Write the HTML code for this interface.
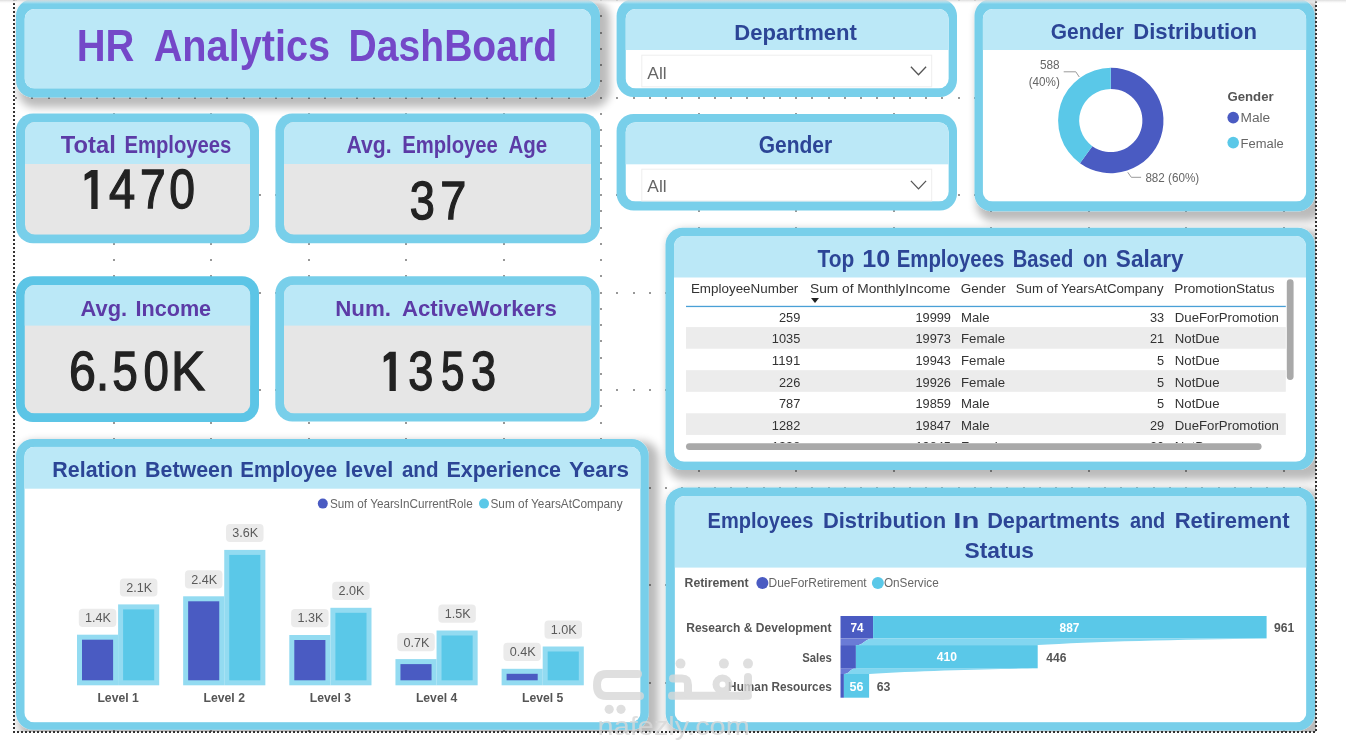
<!DOCTYPE html>
<html><head><meta charset="utf-8"><style>
html,body{margin:0;padding:0;background:#fff;width:1346px;height:742px;overflow:hidden}
svg{display:block;font-family:"Liberation Sans",sans-serif;will-change:transform}
</style></head><body>
<svg width="1346" height="742" viewBox="0 0 1346 742">
<defs>
<filter id="sh" x="-10%" y="-10%" width="130%" height="140%"><feMorphology in="SourceAlpha" operator="dilate" radius="4"/><feGaussianBlur stdDeviation="4"/><feOffset dx="6" dy="6" result="b"/><feComponentTransfer><feFuncA type="linear" slope="0.27"/></feComponentTransfer><feMerge><feMergeNode/><feMergeNode in="SourceGraphic"/></feMerge></filter>
<linearGradient id="topg" x1="0" y1="0" x2="0" y2="1"><stop offset="0" stop-color="#d8d8d8" stop-opacity="0.9"/><stop offset="1" stop-color="#ffffff" stop-opacity="0"/></linearGradient>
<clipPath id="canvas"><rect x="14" y="0" width="1302" height="732"/></clipPath>
</defs>
<rect width="1346" height="742" fill="#fff"/>
<g clip-path="url(#canvas)">
<g fill="#4a4a4a"><rect x="15.25" y="-0.75" width="1.5" height="1.5"/><rect x="15.25" y="97.25" width="1.5" height="1.5"/><rect x="15.25" y="194.25" width="1.5" height="1.5"/><rect x="15.25" y="292.25" width="1.5" height="1.5"/><rect x="15.25" y="389.25" width="1.5" height="1.5"/><rect x="15.25" y="487.25" width="1.5" height="1.5"/><rect x="15.25" y="584.25" width="1.5" height="1.5"/><rect x="15.25" y="682.25" width="1.5" height="1.5"/><rect x="31.25" y="-0.75" width="1.5" height="1.5"/><rect x="31.25" y="97.25" width="1.5" height="1.5"/><rect x="31.25" y="194.25" width="1.5" height="1.5"/><rect x="31.25" y="292.25" width="1.5" height="1.5"/><rect x="31.25" y="389.25" width="1.5" height="1.5"/><rect x="31.25" y="487.25" width="1.5" height="1.5"/><rect x="31.25" y="584.25" width="1.5" height="1.5"/><rect x="31.25" y="682.25" width="1.5" height="1.5"/><rect x="48.25" y="-0.75" width="1.5" height="1.5"/><rect x="48.25" y="97.25" width="1.5" height="1.5"/><rect x="48.25" y="194.25" width="1.5" height="1.5"/><rect x="48.25" y="292.25" width="1.5" height="1.5"/><rect x="48.25" y="389.25" width="1.5" height="1.5"/><rect x="48.25" y="487.25" width="1.5" height="1.5"/><rect x="48.25" y="584.25" width="1.5" height="1.5"/><rect x="48.25" y="682.25" width="1.5" height="1.5"/><rect x="64.25" y="-0.75" width="1.5" height="1.5"/><rect x="64.25" y="97.25" width="1.5" height="1.5"/><rect x="64.25" y="194.25" width="1.5" height="1.5"/><rect x="64.25" y="292.25" width="1.5" height="1.5"/><rect x="64.25" y="389.25" width="1.5" height="1.5"/><rect x="64.25" y="487.25" width="1.5" height="1.5"/><rect x="64.25" y="584.25" width="1.5" height="1.5"/><rect x="64.25" y="682.25" width="1.5" height="1.5"/><rect x="80.25" y="-0.75" width="1.5" height="1.5"/><rect x="80.25" y="97.25" width="1.5" height="1.5"/><rect x="80.25" y="194.25" width="1.5" height="1.5"/><rect x="80.25" y="292.25" width="1.5" height="1.5"/><rect x="80.25" y="389.25" width="1.5" height="1.5"/><rect x="80.25" y="487.25" width="1.5" height="1.5"/><rect x="80.25" y="584.25" width="1.5" height="1.5"/><rect x="80.25" y="682.25" width="1.5" height="1.5"/><rect x="96.25" y="-0.75" width="1.5" height="1.5"/><rect x="96.25" y="97.25" width="1.5" height="1.5"/><rect x="96.25" y="194.25" width="1.5" height="1.5"/><rect x="96.25" y="292.25" width="1.5" height="1.5"/><rect x="96.25" y="389.25" width="1.5" height="1.5"/><rect x="96.25" y="487.25" width="1.5" height="1.5"/><rect x="96.25" y="584.25" width="1.5" height="1.5"/><rect x="96.25" y="682.25" width="1.5" height="1.5"/><rect x="113.25" y="-0.75" width="1.5" height="1.5"/><rect x="113.25" y="15.25" width="1.5" height="1.5"/><rect x="113.25" y="32.25" width="1.5" height="1.5"/><rect x="113.25" y="48.25" width="1.5" height="1.5"/><rect x="113.25" y="64.25" width="1.5" height="1.5"/><rect x="113.25" y="80.25" width="1.5" height="1.5"/><rect x="113.25" y="97.25" width="1.5" height="1.5"/><rect x="113.25" y="113.25" width="1.5" height="1.5"/><rect x="113.25" y="129.25" width="1.5" height="1.5"/><rect x="113.25" y="145.25" width="1.5" height="1.5"/><rect x="113.25" y="162.25" width="1.5" height="1.5"/><rect x="113.25" y="178.25" width="1.5" height="1.5"/><rect x="113.25" y="194.25" width="1.5" height="1.5"/><rect x="113.25" y="210.25" width="1.5" height="1.5"/><rect x="113.25" y="227.25" width="1.5" height="1.5"/><rect x="113.25" y="243.25" width="1.5" height="1.5"/><rect x="113.25" y="259.25" width="1.5" height="1.5"/><rect x="113.25" y="275.25" width="1.5" height="1.5"/><rect x="113.25" y="292.25" width="1.5" height="1.5"/><rect x="113.25" y="308.25" width="1.5" height="1.5"/><rect x="113.25" y="324.25" width="1.5" height="1.5"/><rect x="113.25" y="340.25" width="1.5" height="1.5"/><rect x="113.25" y="357.25" width="1.5" height="1.5"/><rect x="113.25" y="373.25" width="1.5" height="1.5"/><rect x="113.25" y="389.25" width="1.5" height="1.5"/><rect x="113.25" y="405.25" width="1.5" height="1.5"/><rect x="113.25" y="422.25" width="1.5" height="1.5"/><rect x="113.25" y="438.25" width="1.5" height="1.5"/><rect x="113.25" y="454.25" width="1.5" height="1.5"/><rect x="113.25" y="470.25" width="1.5" height="1.5"/><rect x="113.25" y="487.25" width="1.5" height="1.5"/><rect x="113.25" y="503.25" width="1.5" height="1.5"/><rect x="113.25" y="519.25" width="1.5" height="1.5"/><rect x="113.25" y="535.25" width="1.5" height="1.5"/><rect x="113.25" y="552.25" width="1.5" height="1.5"/><rect x="113.25" y="568.25" width="1.5" height="1.5"/><rect x="113.25" y="584.25" width="1.5" height="1.5"/><rect x="113.25" y="600.25" width="1.5" height="1.5"/><rect x="113.25" y="617.25" width="1.5" height="1.5"/><rect x="113.25" y="633.25" width="1.5" height="1.5"/><rect x="113.25" y="649.25" width="1.5" height="1.5"/><rect x="113.25" y="665.25" width="1.5" height="1.5"/><rect x="113.25" y="682.25" width="1.5" height="1.5"/><rect x="113.25" y="698.25" width="1.5" height="1.5"/><rect x="113.25" y="714.25" width="1.5" height="1.5"/><rect x="113.25" y="730.25" width="1.5" height="1.5"/><rect x="129.25" y="-0.75" width="1.5" height="1.5"/><rect x="129.25" y="97.25" width="1.5" height="1.5"/><rect x="129.25" y="194.25" width="1.5" height="1.5"/><rect x="129.25" y="292.25" width="1.5" height="1.5"/><rect x="129.25" y="389.25" width="1.5" height="1.5"/><rect x="129.25" y="487.25" width="1.5" height="1.5"/><rect x="129.25" y="584.25" width="1.5" height="1.5"/><rect x="129.25" y="682.25" width="1.5" height="1.5"/><rect x="145.25" y="-0.75" width="1.5" height="1.5"/><rect x="145.25" y="97.25" width="1.5" height="1.5"/><rect x="145.25" y="194.25" width="1.5" height="1.5"/><rect x="145.25" y="292.25" width="1.5" height="1.5"/><rect x="145.25" y="389.25" width="1.5" height="1.5"/><rect x="145.25" y="487.25" width="1.5" height="1.5"/><rect x="145.25" y="584.25" width="1.5" height="1.5"/><rect x="145.25" y="682.25" width="1.5" height="1.5"/><rect x="161.25" y="-0.75" width="1.5" height="1.5"/><rect x="161.25" y="97.25" width="1.5" height="1.5"/><rect x="161.25" y="194.25" width="1.5" height="1.5"/><rect x="161.25" y="292.25" width="1.5" height="1.5"/><rect x="161.25" y="389.25" width="1.5" height="1.5"/><rect x="161.25" y="487.25" width="1.5" height="1.5"/><rect x="161.25" y="584.25" width="1.5" height="1.5"/><rect x="161.25" y="682.25" width="1.5" height="1.5"/><rect x="178.25" y="-0.75" width="1.5" height="1.5"/><rect x="178.25" y="97.25" width="1.5" height="1.5"/><rect x="178.25" y="194.25" width="1.5" height="1.5"/><rect x="178.25" y="292.25" width="1.5" height="1.5"/><rect x="178.25" y="389.25" width="1.5" height="1.5"/><rect x="178.25" y="487.25" width="1.5" height="1.5"/><rect x="178.25" y="584.25" width="1.5" height="1.5"/><rect x="178.25" y="682.25" width="1.5" height="1.5"/><rect x="194.25" y="-0.75" width="1.5" height="1.5"/><rect x="194.25" y="97.25" width="1.5" height="1.5"/><rect x="194.25" y="194.25" width="1.5" height="1.5"/><rect x="194.25" y="292.25" width="1.5" height="1.5"/><rect x="194.25" y="389.25" width="1.5" height="1.5"/><rect x="194.25" y="487.25" width="1.5" height="1.5"/><rect x="194.25" y="584.25" width="1.5" height="1.5"/><rect x="194.25" y="682.25" width="1.5" height="1.5"/><rect x="210.25" y="-0.75" width="1.5" height="1.5"/><rect x="210.25" y="15.25" width="1.5" height="1.5"/><rect x="210.25" y="32.25" width="1.5" height="1.5"/><rect x="210.25" y="48.25" width="1.5" height="1.5"/><rect x="210.25" y="64.25" width="1.5" height="1.5"/><rect x="210.25" y="80.25" width="1.5" height="1.5"/><rect x="210.25" y="97.25" width="1.5" height="1.5"/><rect x="210.25" y="113.25" width="1.5" height="1.5"/><rect x="210.25" y="129.25" width="1.5" height="1.5"/><rect x="210.25" y="145.25" width="1.5" height="1.5"/><rect x="210.25" y="162.25" width="1.5" height="1.5"/><rect x="210.25" y="178.25" width="1.5" height="1.5"/><rect x="210.25" y="194.25" width="1.5" height="1.5"/><rect x="210.25" y="210.25" width="1.5" height="1.5"/><rect x="210.25" y="227.25" width="1.5" height="1.5"/><rect x="210.25" y="243.25" width="1.5" height="1.5"/><rect x="210.25" y="259.25" width="1.5" height="1.5"/><rect x="210.25" y="275.25" width="1.5" height="1.5"/><rect x="210.25" y="292.25" width="1.5" height="1.5"/><rect x="210.25" y="308.25" width="1.5" height="1.5"/><rect x="210.25" y="324.25" width="1.5" height="1.5"/><rect x="210.25" y="340.25" width="1.5" height="1.5"/><rect x="210.25" y="357.25" width="1.5" height="1.5"/><rect x="210.25" y="373.25" width="1.5" height="1.5"/><rect x="210.25" y="389.25" width="1.5" height="1.5"/><rect x="210.25" y="405.25" width="1.5" height="1.5"/><rect x="210.25" y="422.25" width="1.5" height="1.5"/><rect x="210.25" y="438.25" width="1.5" height="1.5"/><rect x="210.25" y="454.25" width="1.5" height="1.5"/><rect x="210.25" y="470.25" width="1.5" height="1.5"/><rect x="210.25" y="487.25" width="1.5" height="1.5"/><rect x="210.25" y="503.25" width="1.5" height="1.5"/><rect x="210.25" y="519.25" width="1.5" height="1.5"/><rect x="210.25" y="535.25" width="1.5" height="1.5"/><rect x="210.25" y="552.25" width="1.5" height="1.5"/><rect x="210.25" y="568.25" width="1.5" height="1.5"/><rect x="210.25" y="584.25" width="1.5" height="1.5"/><rect x="210.25" y="600.25" width="1.5" height="1.5"/><rect x="210.25" y="617.25" width="1.5" height="1.5"/><rect x="210.25" y="633.25" width="1.5" height="1.5"/><rect x="210.25" y="649.25" width="1.5" height="1.5"/><rect x="210.25" y="665.25" width="1.5" height="1.5"/><rect x="210.25" y="682.25" width="1.5" height="1.5"/><rect x="210.25" y="698.25" width="1.5" height="1.5"/><rect x="210.25" y="714.25" width="1.5" height="1.5"/><rect x="210.25" y="730.25" width="1.5" height="1.5"/><rect x="226.25" y="-0.75" width="1.5" height="1.5"/><rect x="226.25" y="97.25" width="1.5" height="1.5"/><rect x="226.25" y="194.25" width="1.5" height="1.5"/><rect x="226.25" y="292.25" width="1.5" height="1.5"/><rect x="226.25" y="389.25" width="1.5" height="1.5"/><rect x="226.25" y="487.25" width="1.5" height="1.5"/><rect x="226.25" y="584.25" width="1.5" height="1.5"/><rect x="226.25" y="682.25" width="1.5" height="1.5"/><rect x="243.25" y="-0.75" width="1.5" height="1.5"/><rect x="243.25" y="97.25" width="1.5" height="1.5"/><rect x="243.25" y="194.25" width="1.5" height="1.5"/><rect x="243.25" y="292.25" width="1.5" height="1.5"/><rect x="243.25" y="389.25" width="1.5" height="1.5"/><rect x="243.25" y="487.25" width="1.5" height="1.5"/><rect x="243.25" y="584.25" width="1.5" height="1.5"/><rect x="243.25" y="682.25" width="1.5" height="1.5"/><rect x="259.25" y="-0.75" width="1.5" height="1.5"/><rect x="259.25" y="97.25" width="1.5" height="1.5"/><rect x="259.25" y="194.25" width="1.5" height="1.5"/><rect x="259.25" y="292.25" width="1.5" height="1.5"/><rect x="259.25" y="389.25" width="1.5" height="1.5"/><rect x="259.25" y="487.25" width="1.5" height="1.5"/><rect x="259.25" y="584.25" width="1.5" height="1.5"/><rect x="259.25" y="682.25" width="1.5" height="1.5"/><rect x="275.25" y="-0.75" width="1.5" height="1.5"/><rect x="275.25" y="97.25" width="1.5" height="1.5"/><rect x="275.25" y="194.25" width="1.5" height="1.5"/><rect x="275.25" y="292.25" width="1.5" height="1.5"/><rect x="275.25" y="389.25" width="1.5" height="1.5"/><rect x="275.25" y="487.25" width="1.5" height="1.5"/><rect x="275.25" y="584.25" width="1.5" height="1.5"/><rect x="275.25" y="682.25" width="1.5" height="1.5"/><rect x="291.25" y="-0.75" width="1.5" height="1.5"/><rect x="291.25" y="97.25" width="1.5" height="1.5"/><rect x="291.25" y="194.25" width="1.5" height="1.5"/><rect x="291.25" y="292.25" width="1.5" height="1.5"/><rect x="291.25" y="389.25" width="1.5" height="1.5"/><rect x="291.25" y="487.25" width="1.5" height="1.5"/><rect x="291.25" y="584.25" width="1.5" height="1.5"/><rect x="291.25" y="682.25" width="1.5" height="1.5"/><rect x="308.25" y="-0.75" width="1.5" height="1.5"/><rect x="308.25" y="15.25" width="1.5" height="1.5"/><rect x="308.25" y="32.25" width="1.5" height="1.5"/><rect x="308.25" y="48.25" width="1.5" height="1.5"/><rect x="308.25" y="64.25" width="1.5" height="1.5"/><rect x="308.25" y="80.25" width="1.5" height="1.5"/><rect x="308.25" y="97.25" width="1.5" height="1.5"/><rect x="308.25" y="113.25" width="1.5" height="1.5"/><rect x="308.25" y="129.25" width="1.5" height="1.5"/><rect x="308.25" y="145.25" width="1.5" height="1.5"/><rect x="308.25" y="162.25" width="1.5" height="1.5"/><rect x="308.25" y="178.25" width="1.5" height="1.5"/><rect x="308.25" y="194.25" width="1.5" height="1.5"/><rect x="308.25" y="210.25" width="1.5" height="1.5"/><rect x="308.25" y="227.25" width="1.5" height="1.5"/><rect x="308.25" y="243.25" width="1.5" height="1.5"/><rect x="308.25" y="259.25" width="1.5" height="1.5"/><rect x="308.25" y="275.25" width="1.5" height="1.5"/><rect x="308.25" y="292.25" width="1.5" height="1.5"/><rect x="308.25" y="308.25" width="1.5" height="1.5"/><rect x="308.25" y="324.25" width="1.5" height="1.5"/><rect x="308.25" y="340.25" width="1.5" height="1.5"/><rect x="308.25" y="357.25" width="1.5" height="1.5"/><rect x="308.25" y="373.25" width="1.5" height="1.5"/><rect x="308.25" y="389.25" width="1.5" height="1.5"/><rect x="308.25" y="405.25" width="1.5" height="1.5"/><rect x="308.25" y="422.25" width="1.5" height="1.5"/><rect x="308.25" y="438.25" width="1.5" height="1.5"/><rect x="308.25" y="454.25" width="1.5" height="1.5"/><rect x="308.25" y="470.25" width="1.5" height="1.5"/><rect x="308.25" y="487.25" width="1.5" height="1.5"/><rect x="308.25" y="503.25" width="1.5" height="1.5"/><rect x="308.25" y="519.25" width="1.5" height="1.5"/><rect x="308.25" y="535.25" width="1.5" height="1.5"/><rect x="308.25" y="552.25" width="1.5" height="1.5"/><rect x="308.25" y="568.25" width="1.5" height="1.5"/><rect x="308.25" y="584.25" width="1.5" height="1.5"/><rect x="308.25" y="600.25" width="1.5" height="1.5"/><rect x="308.25" y="617.25" width="1.5" height="1.5"/><rect x="308.25" y="633.25" width="1.5" height="1.5"/><rect x="308.25" y="649.25" width="1.5" height="1.5"/><rect x="308.25" y="665.25" width="1.5" height="1.5"/><rect x="308.25" y="682.25" width="1.5" height="1.5"/><rect x="308.25" y="698.25" width="1.5" height="1.5"/><rect x="308.25" y="714.25" width="1.5" height="1.5"/><rect x="308.25" y="730.25" width="1.5" height="1.5"/><rect x="324.25" y="-0.75" width="1.5" height="1.5"/><rect x="324.25" y="97.25" width="1.5" height="1.5"/><rect x="324.25" y="194.25" width="1.5" height="1.5"/><rect x="324.25" y="292.25" width="1.5" height="1.5"/><rect x="324.25" y="389.25" width="1.5" height="1.5"/><rect x="324.25" y="487.25" width="1.5" height="1.5"/><rect x="324.25" y="584.25" width="1.5" height="1.5"/><rect x="324.25" y="682.25" width="1.5" height="1.5"/><rect x="340.25" y="-0.75" width="1.5" height="1.5"/><rect x="340.25" y="97.25" width="1.5" height="1.5"/><rect x="340.25" y="194.25" width="1.5" height="1.5"/><rect x="340.25" y="292.25" width="1.5" height="1.5"/><rect x="340.25" y="389.25" width="1.5" height="1.5"/><rect x="340.25" y="487.25" width="1.5" height="1.5"/><rect x="340.25" y="584.25" width="1.5" height="1.5"/><rect x="340.25" y="682.25" width="1.5" height="1.5"/><rect x="356.25" y="-0.75" width="1.5" height="1.5"/><rect x="356.25" y="97.25" width="1.5" height="1.5"/><rect x="356.25" y="194.25" width="1.5" height="1.5"/><rect x="356.25" y="292.25" width="1.5" height="1.5"/><rect x="356.25" y="389.25" width="1.5" height="1.5"/><rect x="356.25" y="487.25" width="1.5" height="1.5"/><rect x="356.25" y="584.25" width="1.5" height="1.5"/><rect x="356.25" y="682.25" width="1.5" height="1.5"/><rect x="373.25" y="-0.75" width="1.5" height="1.5"/><rect x="373.25" y="97.25" width="1.5" height="1.5"/><rect x="373.25" y="194.25" width="1.5" height="1.5"/><rect x="373.25" y="292.25" width="1.5" height="1.5"/><rect x="373.25" y="389.25" width="1.5" height="1.5"/><rect x="373.25" y="487.25" width="1.5" height="1.5"/><rect x="373.25" y="584.25" width="1.5" height="1.5"/><rect x="373.25" y="682.25" width="1.5" height="1.5"/><rect x="389.25" y="-0.75" width="1.5" height="1.5"/><rect x="389.25" y="97.25" width="1.5" height="1.5"/><rect x="389.25" y="194.25" width="1.5" height="1.5"/><rect x="389.25" y="292.25" width="1.5" height="1.5"/><rect x="389.25" y="389.25" width="1.5" height="1.5"/><rect x="389.25" y="487.25" width="1.5" height="1.5"/><rect x="389.25" y="584.25" width="1.5" height="1.5"/><rect x="389.25" y="682.25" width="1.5" height="1.5"/><rect x="405.25" y="-0.75" width="1.5" height="1.5"/><rect x="405.25" y="15.25" width="1.5" height="1.5"/><rect x="405.25" y="32.25" width="1.5" height="1.5"/><rect x="405.25" y="48.25" width="1.5" height="1.5"/><rect x="405.25" y="64.25" width="1.5" height="1.5"/><rect x="405.25" y="80.25" width="1.5" height="1.5"/><rect x="405.25" y="97.25" width="1.5" height="1.5"/><rect x="405.25" y="113.25" width="1.5" height="1.5"/><rect x="405.25" y="129.25" width="1.5" height="1.5"/><rect x="405.25" y="145.25" width="1.5" height="1.5"/><rect x="405.25" y="162.25" width="1.5" height="1.5"/><rect x="405.25" y="178.25" width="1.5" height="1.5"/><rect x="405.25" y="194.25" width="1.5" height="1.5"/><rect x="405.25" y="210.25" width="1.5" height="1.5"/><rect x="405.25" y="227.25" width="1.5" height="1.5"/><rect x="405.25" y="243.25" width="1.5" height="1.5"/><rect x="405.25" y="259.25" width="1.5" height="1.5"/><rect x="405.25" y="275.25" width="1.5" height="1.5"/><rect x="405.25" y="292.25" width="1.5" height="1.5"/><rect x="405.25" y="308.25" width="1.5" height="1.5"/><rect x="405.25" y="324.25" width="1.5" height="1.5"/><rect x="405.25" y="340.25" width="1.5" height="1.5"/><rect x="405.25" y="357.25" width="1.5" height="1.5"/><rect x="405.25" y="373.25" width="1.5" height="1.5"/><rect x="405.25" y="389.25" width="1.5" height="1.5"/><rect x="405.25" y="405.25" width="1.5" height="1.5"/><rect x="405.25" y="422.25" width="1.5" height="1.5"/><rect x="405.25" y="438.25" width="1.5" height="1.5"/><rect x="405.25" y="454.25" width="1.5" height="1.5"/><rect x="405.25" y="470.25" width="1.5" height="1.5"/><rect x="405.25" y="487.25" width="1.5" height="1.5"/><rect x="405.25" y="503.25" width="1.5" height="1.5"/><rect x="405.25" y="519.25" width="1.5" height="1.5"/><rect x="405.25" y="535.25" width="1.5" height="1.5"/><rect x="405.25" y="552.25" width="1.5" height="1.5"/><rect x="405.25" y="568.25" width="1.5" height="1.5"/><rect x="405.25" y="584.25" width="1.5" height="1.5"/><rect x="405.25" y="600.25" width="1.5" height="1.5"/><rect x="405.25" y="617.25" width="1.5" height="1.5"/><rect x="405.25" y="633.25" width="1.5" height="1.5"/><rect x="405.25" y="649.25" width="1.5" height="1.5"/><rect x="405.25" y="665.25" width="1.5" height="1.5"/><rect x="405.25" y="682.25" width="1.5" height="1.5"/><rect x="405.25" y="698.25" width="1.5" height="1.5"/><rect x="405.25" y="714.25" width="1.5" height="1.5"/><rect x="405.25" y="730.25" width="1.5" height="1.5"/><rect x="421.25" y="-0.75" width="1.5" height="1.5"/><rect x="421.25" y="97.25" width="1.5" height="1.5"/><rect x="421.25" y="194.25" width="1.5" height="1.5"/><rect x="421.25" y="292.25" width="1.5" height="1.5"/><rect x="421.25" y="389.25" width="1.5" height="1.5"/><rect x="421.25" y="487.25" width="1.5" height="1.5"/><rect x="421.25" y="584.25" width="1.5" height="1.5"/><rect x="421.25" y="682.25" width="1.5" height="1.5"/><rect x="438.25" y="-0.75" width="1.5" height="1.5"/><rect x="438.25" y="97.25" width="1.5" height="1.5"/><rect x="438.25" y="194.25" width="1.5" height="1.5"/><rect x="438.25" y="292.25" width="1.5" height="1.5"/><rect x="438.25" y="389.25" width="1.5" height="1.5"/><rect x="438.25" y="487.25" width="1.5" height="1.5"/><rect x="438.25" y="584.25" width="1.5" height="1.5"/><rect x="438.25" y="682.25" width="1.5" height="1.5"/><rect x="454.25" y="-0.75" width="1.5" height="1.5"/><rect x="454.25" y="97.25" width="1.5" height="1.5"/><rect x="454.25" y="194.25" width="1.5" height="1.5"/><rect x="454.25" y="292.25" width="1.5" height="1.5"/><rect x="454.25" y="389.25" width="1.5" height="1.5"/><rect x="454.25" y="487.25" width="1.5" height="1.5"/><rect x="454.25" y="584.25" width="1.5" height="1.5"/><rect x="454.25" y="682.25" width="1.5" height="1.5"/><rect x="470.25" y="-0.75" width="1.5" height="1.5"/><rect x="470.25" y="97.25" width="1.5" height="1.5"/><rect x="470.25" y="194.25" width="1.5" height="1.5"/><rect x="470.25" y="292.25" width="1.5" height="1.5"/><rect x="470.25" y="389.25" width="1.5" height="1.5"/><rect x="470.25" y="487.25" width="1.5" height="1.5"/><rect x="470.25" y="584.25" width="1.5" height="1.5"/><rect x="470.25" y="682.25" width="1.5" height="1.5"/><rect x="486.25" y="-0.75" width="1.5" height="1.5"/><rect x="486.25" y="97.25" width="1.5" height="1.5"/><rect x="486.25" y="194.25" width="1.5" height="1.5"/><rect x="486.25" y="292.25" width="1.5" height="1.5"/><rect x="486.25" y="389.25" width="1.5" height="1.5"/><rect x="486.25" y="487.25" width="1.5" height="1.5"/><rect x="486.25" y="584.25" width="1.5" height="1.5"/><rect x="486.25" y="682.25" width="1.5" height="1.5"/><rect x="503.25" y="-0.75" width="1.5" height="1.5"/><rect x="503.25" y="15.25" width="1.5" height="1.5"/><rect x="503.25" y="32.25" width="1.5" height="1.5"/><rect x="503.25" y="48.25" width="1.5" height="1.5"/><rect x="503.25" y="64.25" width="1.5" height="1.5"/><rect x="503.25" y="80.25" width="1.5" height="1.5"/><rect x="503.25" y="97.25" width="1.5" height="1.5"/><rect x="503.25" y="113.25" width="1.5" height="1.5"/><rect x="503.25" y="129.25" width="1.5" height="1.5"/><rect x="503.25" y="145.25" width="1.5" height="1.5"/><rect x="503.25" y="162.25" width="1.5" height="1.5"/><rect x="503.25" y="178.25" width="1.5" height="1.5"/><rect x="503.25" y="194.25" width="1.5" height="1.5"/><rect x="503.25" y="210.25" width="1.5" height="1.5"/><rect x="503.25" y="227.25" width="1.5" height="1.5"/><rect x="503.25" y="243.25" width="1.5" height="1.5"/><rect x="503.25" y="259.25" width="1.5" height="1.5"/><rect x="503.25" y="275.25" width="1.5" height="1.5"/><rect x="503.25" y="292.25" width="1.5" height="1.5"/><rect x="503.25" y="308.25" width="1.5" height="1.5"/><rect x="503.25" y="324.25" width="1.5" height="1.5"/><rect x="503.25" y="340.25" width="1.5" height="1.5"/><rect x="503.25" y="357.25" width="1.5" height="1.5"/><rect x="503.25" y="373.25" width="1.5" height="1.5"/><rect x="503.25" y="389.25" width="1.5" height="1.5"/><rect x="503.25" y="405.25" width="1.5" height="1.5"/><rect x="503.25" y="422.25" width="1.5" height="1.5"/><rect x="503.25" y="438.25" width="1.5" height="1.5"/><rect x="503.25" y="454.25" width="1.5" height="1.5"/><rect x="503.25" y="470.25" width="1.5" height="1.5"/><rect x="503.25" y="487.25" width="1.5" height="1.5"/><rect x="503.25" y="503.25" width="1.5" height="1.5"/><rect x="503.25" y="519.25" width="1.5" height="1.5"/><rect x="503.25" y="535.25" width="1.5" height="1.5"/><rect x="503.25" y="552.25" width="1.5" height="1.5"/><rect x="503.25" y="568.25" width="1.5" height="1.5"/><rect x="503.25" y="584.25" width="1.5" height="1.5"/><rect x="503.25" y="600.25" width="1.5" height="1.5"/><rect x="503.25" y="617.25" width="1.5" height="1.5"/><rect x="503.25" y="633.25" width="1.5" height="1.5"/><rect x="503.25" y="649.25" width="1.5" height="1.5"/><rect x="503.25" y="665.25" width="1.5" height="1.5"/><rect x="503.25" y="682.25" width="1.5" height="1.5"/><rect x="503.25" y="698.25" width="1.5" height="1.5"/><rect x="503.25" y="714.25" width="1.5" height="1.5"/><rect x="503.25" y="730.25" width="1.5" height="1.5"/><rect x="519.25" y="-0.75" width="1.5" height="1.5"/><rect x="519.25" y="97.25" width="1.5" height="1.5"/><rect x="519.25" y="194.25" width="1.5" height="1.5"/><rect x="519.25" y="292.25" width="1.5" height="1.5"/><rect x="519.25" y="389.25" width="1.5" height="1.5"/><rect x="519.25" y="487.25" width="1.5" height="1.5"/><rect x="519.25" y="584.25" width="1.5" height="1.5"/><rect x="519.25" y="682.25" width="1.5" height="1.5"/><rect x="535.25" y="-0.75" width="1.5" height="1.5"/><rect x="535.25" y="97.25" width="1.5" height="1.5"/><rect x="535.25" y="194.25" width="1.5" height="1.5"/><rect x="535.25" y="292.25" width="1.5" height="1.5"/><rect x="535.25" y="389.25" width="1.5" height="1.5"/><rect x="535.25" y="487.25" width="1.5" height="1.5"/><rect x="535.25" y="584.25" width="1.5" height="1.5"/><rect x="535.25" y="682.25" width="1.5" height="1.5"/><rect x="551.25" y="-0.75" width="1.5" height="1.5"/><rect x="551.25" y="97.25" width="1.5" height="1.5"/><rect x="551.25" y="194.25" width="1.5" height="1.5"/><rect x="551.25" y="292.25" width="1.5" height="1.5"/><rect x="551.25" y="389.25" width="1.5" height="1.5"/><rect x="551.25" y="487.25" width="1.5" height="1.5"/><rect x="551.25" y="584.25" width="1.5" height="1.5"/><rect x="551.25" y="682.25" width="1.5" height="1.5"/><rect x="568.25" y="-0.75" width="1.5" height="1.5"/><rect x="568.25" y="97.25" width="1.5" height="1.5"/><rect x="568.25" y="194.25" width="1.5" height="1.5"/><rect x="568.25" y="292.25" width="1.5" height="1.5"/><rect x="568.25" y="389.25" width="1.5" height="1.5"/><rect x="568.25" y="487.25" width="1.5" height="1.5"/><rect x="568.25" y="584.25" width="1.5" height="1.5"/><rect x="568.25" y="682.25" width="1.5" height="1.5"/><rect x="584.25" y="-0.75" width="1.5" height="1.5"/><rect x="584.25" y="97.25" width="1.5" height="1.5"/><rect x="584.25" y="194.25" width="1.5" height="1.5"/><rect x="584.25" y="292.25" width="1.5" height="1.5"/><rect x="584.25" y="389.25" width="1.5" height="1.5"/><rect x="584.25" y="487.25" width="1.5" height="1.5"/><rect x="584.25" y="584.25" width="1.5" height="1.5"/><rect x="584.25" y="682.25" width="1.5" height="1.5"/><rect x="600.25" y="-0.75" width="1.5" height="1.5"/><rect x="600.25" y="15.25" width="1.5" height="1.5"/><rect x="600.25" y="32.25" width="1.5" height="1.5"/><rect x="600.25" y="48.25" width="1.5" height="1.5"/><rect x="600.25" y="64.25" width="1.5" height="1.5"/><rect x="600.25" y="80.25" width="1.5" height="1.5"/><rect x="600.25" y="97.25" width="1.5" height="1.5"/><rect x="600.25" y="113.25" width="1.5" height="1.5"/><rect x="600.25" y="129.25" width="1.5" height="1.5"/><rect x="600.25" y="145.25" width="1.5" height="1.5"/><rect x="600.25" y="162.25" width="1.5" height="1.5"/><rect x="600.25" y="178.25" width="1.5" height="1.5"/><rect x="600.25" y="194.25" width="1.5" height="1.5"/><rect x="600.25" y="210.25" width="1.5" height="1.5"/><rect x="600.25" y="227.25" width="1.5" height="1.5"/><rect x="600.25" y="243.25" width="1.5" height="1.5"/><rect x="600.25" y="259.25" width="1.5" height="1.5"/><rect x="600.25" y="275.25" width="1.5" height="1.5"/><rect x="600.25" y="292.25" width="1.5" height="1.5"/><rect x="600.25" y="308.25" width="1.5" height="1.5"/><rect x="600.25" y="324.25" width="1.5" height="1.5"/><rect x="600.25" y="340.25" width="1.5" height="1.5"/><rect x="600.25" y="357.25" width="1.5" height="1.5"/><rect x="600.25" y="373.25" width="1.5" height="1.5"/><rect x="600.25" y="389.25" width="1.5" height="1.5"/><rect x="600.25" y="405.25" width="1.5" height="1.5"/><rect x="600.25" y="422.25" width="1.5" height="1.5"/><rect x="600.25" y="438.25" width="1.5" height="1.5"/><rect x="600.25" y="454.25" width="1.5" height="1.5"/><rect x="600.25" y="470.25" width="1.5" height="1.5"/><rect x="600.25" y="487.25" width="1.5" height="1.5"/><rect x="600.25" y="503.25" width="1.5" height="1.5"/><rect x="600.25" y="519.25" width="1.5" height="1.5"/><rect x="600.25" y="535.25" width="1.5" height="1.5"/><rect x="600.25" y="552.25" width="1.5" height="1.5"/><rect x="600.25" y="568.25" width="1.5" height="1.5"/><rect x="600.25" y="584.25" width="1.5" height="1.5"/><rect x="600.25" y="600.25" width="1.5" height="1.5"/><rect x="600.25" y="617.25" width="1.5" height="1.5"/><rect x="600.25" y="633.25" width="1.5" height="1.5"/><rect x="600.25" y="649.25" width="1.5" height="1.5"/><rect x="600.25" y="665.25" width="1.5" height="1.5"/><rect x="600.25" y="682.25" width="1.5" height="1.5"/><rect x="600.25" y="698.25" width="1.5" height="1.5"/><rect x="600.25" y="714.25" width="1.5" height="1.5"/><rect x="600.25" y="730.25" width="1.5" height="1.5"/><rect x="616.25" y="-0.75" width="1.5" height="1.5"/><rect x="616.25" y="97.25" width="1.5" height="1.5"/><rect x="616.25" y="194.25" width="1.5" height="1.5"/><rect x="616.25" y="292.25" width="1.5" height="1.5"/><rect x="616.25" y="389.25" width="1.5" height="1.5"/><rect x="616.25" y="487.25" width="1.5" height="1.5"/><rect x="616.25" y="584.25" width="1.5" height="1.5"/><rect x="616.25" y="682.25" width="1.5" height="1.5"/><rect x="633.25" y="-0.75" width="1.5" height="1.5"/><rect x="633.25" y="97.25" width="1.5" height="1.5"/><rect x="633.25" y="194.25" width="1.5" height="1.5"/><rect x="633.25" y="292.25" width="1.5" height="1.5"/><rect x="633.25" y="389.25" width="1.5" height="1.5"/><rect x="633.25" y="487.25" width="1.5" height="1.5"/><rect x="633.25" y="584.25" width="1.5" height="1.5"/><rect x="633.25" y="682.25" width="1.5" height="1.5"/><rect x="649.25" y="-0.75" width="1.5" height="1.5"/><rect x="649.25" y="97.25" width="1.5" height="1.5"/><rect x="649.25" y="194.25" width="1.5" height="1.5"/><rect x="649.25" y="292.25" width="1.5" height="1.5"/><rect x="649.25" y="389.25" width="1.5" height="1.5"/><rect x="649.25" y="487.25" width="1.5" height="1.5"/><rect x="649.25" y="584.25" width="1.5" height="1.5"/><rect x="649.25" y="682.25" width="1.5" height="1.5"/><rect x="665.25" y="-0.75" width="1.5" height="1.5"/><rect x="665.25" y="97.25" width="1.5" height="1.5"/><rect x="665.25" y="194.25" width="1.5" height="1.5"/><rect x="665.25" y="292.25" width="1.5" height="1.5"/><rect x="665.25" y="389.25" width="1.5" height="1.5"/><rect x="665.25" y="487.25" width="1.5" height="1.5"/><rect x="665.25" y="584.25" width="1.5" height="1.5"/><rect x="665.25" y="682.25" width="1.5" height="1.5"/><rect x="681.25" y="-0.75" width="1.5" height="1.5"/><rect x="681.25" y="97.25" width="1.5" height="1.5"/><rect x="681.25" y="194.25" width="1.5" height="1.5"/><rect x="681.25" y="292.25" width="1.5" height="1.5"/><rect x="681.25" y="389.25" width="1.5" height="1.5"/><rect x="681.25" y="487.25" width="1.5" height="1.5"/><rect x="681.25" y="584.25" width="1.5" height="1.5"/><rect x="681.25" y="682.25" width="1.5" height="1.5"/><rect x="698.25" y="-0.75" width="1.5" height="1.5"/><rect x="698.25" y="15.25" width="1.5" height="1.5"/><rect x="698.25" y="32.25" width="1.5" height="1.5"/><rect x="698.25" y="48.25" width="1.5" height="1.5"/><rect x="698.25" y="64.25" width="1.5" height="1.5"/><rect x="698.25" y="80.25" width="1.5" height="1.5"/><rect x="698.25" y="97.25" width="1.5" height="1.5"/><rect x="698.25" y="113.25" width="1.5" height="1.5"/><rect x="698.25" y="129.25" width="1.5" height="1.5"/><rect x="698.25" y="145.25" width="1.5" height="1.5"/><rect x="698.25" y="162.25" width="1.5" height="1.5"/><rect x="698.25" y="178.25" width="1.5" height="1.5"/><rect x="698.25" y="194.25" width="1.5" height="1.5"/><rect x="698.25" y="210.25" width="1.5" height="1.5"/><rect x="698.25" y="227.25" width="1.5" height="1.5"/><rect x="698.25" y="243.25" width="1.5" height="1.5"/><rect x="698.25" y="259.25" width="1.5" height="1.5"/><rect x="698.25" y="275.25" width="1.5" height="1.5"/><rect x="698.25" y="292.25" width="1.5" height="1.5"/><rect x="698.25" y="308.25" width="1.5" height="1.5"/><rect x="698.25" y="324.25" width="1.5" height="1.5"/><rect x="698.25" y="340.25" width="1.5" height="1.5"/><rect x="698.25" y="357.25" width="1.5" height="1.5"/><rect x="698.25" y="373.25" width="1.5" height="1.5"/><rect x="698.25" y="389.25" width="1.5" height="1.5"/><rect x="698.25" y="405.25" width="1.5" height="1.5"/><rect x="698.25" y="422.25" width="1.5" height="1.5"/><rect x="698.25" y="438.25" width="1.5" height="1.5"/><rect x="698.25" y="454.25" width="1.5" height="1.5"/><rect x="698.25" y="470.25" width="1.5" height="1.5"/><rect x="698.25" y="487.25" width="1.5" height="1.5"/><rect x="698.25" y="503.25" width="1.5" height="1.5"/><rect x="698.25" y="519.25" width="1.5" height="1.5"/><rect x="698.25" y="535.25" width="1.5" height="1.5"/><rect x="698.25" y="552.25" width="1.5" height="1.5"/><rect x="698.25" y="568.25" width="1.5" height="1.5"/><rect x="698.25" y="584.25" width="1.5" height="1.5"/><rect x="698.25" y="600.25" width="1.5" height="1.5"/><rect x="698.25" y="617.25" width="1.5" height="1.5"/><rect x="698.25" y="633.25" width="1.5" height="1.5"/><rect x="698.25" y="649.25" width="1.5" height="1.5"/><rect x="698.25" y="665.25" width="1.5" height="1.5"/><rect x="698.25" y="682.25" width="1.5" height="1.5"/><rect x="698.25" y="698.25" width="1.5" height="1.5"/><rect x="698.25" y="714.25" width="1.5" height="1.5"/><rect x="698.25" y="730.25" width="1.5" height="1.5"/><rect x="714.25" y="-0.75" width="1.5" height="1.5"/><rect x="714.25" y="97.25" width="1.5" height="1.5"/><rect x="714.25" y="194.25" width="1.5" height="1.5"/><rect x="714.25" y="292.25" width="1.5" height="1.5"/><rect x="714.25" y="389.25" width="1.5" height="1.5"/><rect x="714.25" y="487.25" width="1.5" height="1.5"/><rect x="714.25" y="584.25" width="1.5" height="1.5"/><rect x="714.25" y="682.25" width="1.5" height="1.5"/><rect x="730.25" y="-0.75" width="1.5" height="1.5"/><rect x="730.25" y="97.25" width="1.5" height="1.5"/><rect x="730.25" y="194.25" width="1.5" height="1.5"/><rect x="730.25" y="292.25" width="1.5" height="1.5"/><rect x="730.25" y="389.25" width="1.5" height="1.5"/><rect x="730.25" y="487.25" width="1.5" height="1.5"/><rect x="730.25" y="584.25" width="1.5" height="1.5"/><rect x="730.25" y="682.25" width="1.5" height="1.5"/><rect x="746.25" y="-0.75" width="1.5" height="1.5"/><rect x="746.25" y="97.25" width="1.5" height="1.5"/><rect x="746.25" y="194.25" width="1.5" height="1.5"/><rect x="746.25" y="292.25" width="1.5" height="1.5"/><rect x="746.25" y="389.25" width="1.5" height="1.5"/><rect x="746.25" y="487.25" width="1.5" height="1.5"/><rect x="746.25" y="584.25" width="1.5" height="1.5"/><rect x="746.25" y="682.25" width="1.5" height="1.5"/><rect x="763.25" y="-0.75" width="1.5" height="1.5"/><rect x="763.25" y="97.25" width="1.5" height="1.5"/><rect x="763.25" y="194.25" width="1.5" height="1.5"/><rect x="763.25" y="292.25" width="1.5" height="1.5"/><rect x="763.25" y="389.25" width="1.5" height="1.5"/><rect x="763.25" y="487.25" width="1.5" height="1.5"/><rect x="763.25" y="584.25" width="1.5" height="1.5"/><rect x="763.25" y="682.25" width="1.5" height="1.5"/><rect x="779.25" y="-0.75" width="1.5" height="1.5"/><rect x="779.25" y="97.25" width="1.5" height="1.5"/><rect x="779.25" y="194.25" width="1.5" height="1.5"/><rect x="779.25" y="292.25" width="1.5" height="1.5"/><rect x="779.25" y="389.25" width="1.5" height="1.5"/><rect x="779.25" y="487.25" width="1.5" height="1.5"/><rect x="779.25" y="584.25" width="1.5" height="1.5"/><rect x="779.25" y="682.25" width="1.5" height="1.5"/><rect x="795.25" y="-0.75" width="1.5" height="1.5"/><rect x="795.25" y="15.25" width="1.5" height="1.5"/><rect x="795.25" y="32.25" width="1.5" height="1.5"/><rect x="795.25" y="48.25" width="1.5" height="1.5"/><rect x="795.25" y="64.25" width="1.5" height="1.5"/><rect x="795.25" y="80.25" width="1.5" height="1.5"/><rect x="795.25" y="97.25" width="1.5" height="1.5"/><rect x="795.25" y="113.25" width="1.5" height="1.5"/><rect x="795.25" y="129.25" width="1.5" height="1.5"/><rect x="795.25" y="145.25" width="1.5" height="1.5"/><rect x="795.25" y="162.25" width="1.5" height="1.5"/><rect x="795.25" y="178.25" width="1.5" height="1.5"/><rect x="795.25" y="194.25" width="1.5" height="1.5"/><rect x="795.25" y="210.25" width="1.5" height="1.5"/><rect x="795.25" y="227.25" width="1.5" height="1.5"/><rect x="795.25" y="243.25" width="1.5" height="1.5"/><rect x="795.25" y="259.25" width="1.5" height="1.5"/><rect x="795.25" y="275.25" width="1.5" height="1.5"/><rect x="795.25" y="292.25" width="1.5" height="1.5"/><rect x="795.25" y="308.25" width="1.5" height="1.5"/><rect x="795.25" y="324.25" width="1.5" height="1.5"/><rect x="795.25" y="340.25" width="1.5" height="1.5"/><rect x="795.25" y="357.25" width="1.5" height="1.5"/><rect x="795.25" y="373.25" width="1.5" height="1.5"/><rect x="795.25" y="389.25" width="1.5" height="1.5"/><rect x="795.25" y="405.25" width="1.5" height="1.5"/><rect x="795.25" y="422.25" width="1.5" height="1.5"/><rect x="795.25" y="438.25" width="1.5" height="1.5"/><rect x="795.25" y="454.25" width="1.5" height="1.5"/><rect x="795.25" y="470.25" width="1.5" height="1.5"/><rect x="795.25" y="487.25" width="1.5" height="1.5"/><rect x="795.25" y="503.25" width="1.5" height="1.5"/><rect x="795.25" y="519.25" width="1.5" height="1.5"/><rect x="795.25" y="535.25" width="1.5" height="1.5"/><rect x="795.25" y="552.25" width="1.5" height="1.5"/><rect x="795.25" y="568.25" width="1.5" height="1.5"/><rect x="795.25" y="584.25" width="1.5" height="1.5"/><rect x="795.25" y="600.25" width="1.5" height="1.5"/><rect x="795.25" y="617.25" width="1.5" height="1.5"/><rect x="795.25" y="633.25" width="1.5" height="1.5"/><rect x="795.25" y="649.25" width="1.5" height="1.5"/><rect x="795.25" y="665.25" width="1.5" height="1.5"/><rect x="795.25" y="682.25" width="1.5" height="1.5"/><rect x="795.25" y="698.25" width="1.5" height="1.5"/><rect x="795.25" y="714.25" width="1.5" height="1.5"/><rect x="795.25" y="730.25" width="1.5" height="1.5"/><rect x="811.25" y="-0.75" width="1.5" height="1.5"/><rect x="811.25" y="97.25" width="1.5" height="1.5"/><rect x="811.25" y="194.25" width="1.5" height="1.5"/><rect x="811.25" y="292.25" width="1.5" height="1.5"/><rect x="811.25" y="389.25" width="1.5" height="1.5"/><rect x="811.25" y="487.25" width="1.5" height="1.5"/><rect x="811.25" y="584.25" width="1.5" height="1.5"/><rect x="811.25" y="682.25" width="1.5" height="1.5"/><rect x="828.25" y="-0.75" width="1.5" height="1.5"/><rect x="828.25" y="97.25" width="1.5" height="1.5"/><rect x="828.25" y="194.25" width="1.5" height="1.5"/><rect x="828.25" y="292.25" width="1.5" height="1.5"/><rect x="828.25" y="389.25" width="1.5" height="1.5"/><rect x="828.25" y="487.25" width="1.5" height="1.5"/><rect x="828.25" y="584.25" width="1.5" height="1.5"/><rect x="828.25" y="682.25" width="1.5" height="1.5"/><rect x="844.25" y="-0.75" width="1.5" height="1.5"/><rect x="844.25" y="97.25" width="1.5" height="1.5"/><rect x="844.25" y="194.25" width="1.5" height="1.5"/><rect x="844.25" y="292.25" width="1.5" height="1.5"/><rect x="844.25" y="389.25" width="1.5" height="1.5"/><rect x="844.25" y="487.25" width="1.5" height="1.5"/><rect x="844.25" y="584.25" width="1.5" height="1.5"/><rect x="844.25" y="682.25" width="1.5" height="1.5"/><rect x="860.25" y="-0.75" width="1.5" height="1.5"/><rect x="860.25" y="97.25" width="1.5" height="1.5"/><rect x="860.25" y="194.25" width="1.5" height="1.5"/><rect x="860.25" y="292.25" width="1.5" height="1.5"/><rect x="860.25" y="389.25" width="1.5" height="1.5"/><rect x="860.25" y="487.25" width="1.5" height="1.5"/><rect x="860.25" y="584.25" width="1.5" height="1.5"/><rect x="860.25" y="682.25" width="1.5" height="1.5"/><rect x="876.25" y="-0.75" width="1.5" height="1.5"/><rect x="876.25" y="97.25" width="1.5" height="1.5"/><rect x="876.25" y="194.25" width="1.5" height="1.5"/><rect x="876.25" y="292.25" width="1.5" height="1.5"/><rect x="876.25" y="389.25" width="1.5" height="1.5"/><rect x="876.25" y="487.25" width="1.5" height="1.5"/><rect x="876.25" y="584.25" width="1.5" height="1.5"/><rect x="876.25" y="682.25" width="1.5" height="1.5"/><rect x="893.25" y="-0.75" width="1.5" height="1.5"/><rect x="893.25" y="15.25" width="1.5" height="1.5"/><rect x="893.25" y="32.25" width="1.5" height="1.5"/><rect x="893.25" y="48.25" width="1.5" height="1.5"/><rect x="893.25" y="64.25" width="1.5" height="1.5"/><rect x="893.25" y="80.25" width="1.5" height="1.5"/><rect x="893.25" y="97.25" width="1.5" height="1.5"/><rect x="893.25" y="113.25" width="1.5" height="1.5"/><rect x="893.25" y="129.25" width="1.5" height="1.5"/><rect x="893.25" y="145.25" width="1.5" height="1.5"/><rect x="893.25" y="162.25" width="1.5" height="1.5"/><rect x="893.25" y="178.25" width="1.5" height="1.5"/><rect x="893.25" y="194.25" width="1.5" height="1.5"/><rect x="893.25" y="210.25" width="1.5" height="1.5"/><rect x="893.25" y="227.25" width="1.5" height="1.5"/><rect x="893.25" y="243.25" width="1.5" height="1.5"/><rect x="893.25" y="259.25" width="1.5" height="1.5"/><rect x="893.25" y="275.25" width="1.5" height="1.5"/><rect x="893.25" y="292.25" width="1.5" height="1.5"/><rect x="893.25" y="308.25" width="1.5" height="1.5"/><rect x="893.25" y="324.25" width="1.5" height="1.5"/><rect x="893.25" y="340.25" width="1.5" height="1.5"/><rect x="893.25" y="357.25" width="1.5" height="1.5"/><rect x="893.25" y="373.25" width="1.5" height="1.5"/><rect x="893.25" y="389.25" width="1.5" height="1.5"/><rect x="893.25" y="405.25" width="1.5" height="1.5"/><rect x="893.25" y="422.25" width="1.5" height="1.5"/><rect x="893.25" y="438.25" width="1.5" height="1.5"/><rect x="893.25" y="454.25" width="1.5" height="1.5"/><rect x="893.25" y="470.25" width="1.5" height="1.5"/><rect x="893.25" y="487.25" width="1.5" height="1.5"/><rect x="893.25" y="503.25" width="1.5" height="1.5"/><rect x="893.25" y="519.25" width="1.5" height="1.5"/><rect x="893.25" y="535.25" width="1.5" height="1.5"/><rect x="893.25" y="552.25" width="1.5" height="1.5"/><rect x="893.25" y="568.25" width="1.5" height="1.5"/><rect x="893.25" y="584.25" width="1.5" height="1.5"/><rect x="893.25" y="600.25" width="1.5" height="1.5"/><rect x="893.25" y="617.25" width="1.5" height="1.5"/><rect x="893.25" y="633.25" width="1.5" height="1.5"/><rect x="893.25" y="649.25" width="1.5" height="1.5"/><rect x="893.25" y="665.25" width="1.5" height="1.5"/><rect x="893.25" y="682.25" width="1.5" height="1.5"/><rect x="893.25" y="698.25" width="1.5" height="1.5"/><rect x="893.25" y="714.25" width="1.5" height="1.5"/><rect x="893.25" y="730.25" width="1.5" height="1.5"/><rect x="909.25" y="-0.75" width="1.5" height="1.5"/><rect x="909.25" y="97.25" width="1.5" height="1.5"/><rect x="909.25" y="194.25" width="1.5" height="1.5"/><rect x="909.25" y="292.25" width="1.5" height="1.5"/><rect x="909.25" y="389.25" width="1.5" height="1.5"/><rect x="909.25" y="487.25" width="1.5" height="1.5"/><rect x="909.25" y="584.25" width="1.5" height="1.5"/><rect x="909.25" y="682.25" width="1.5" height="1.5"/><rect x="925.25" y="-0.75" width="1.5" height="1.5"/><rect x="925.25" y="97.25" width="1.5" height="1.5"/><rect x="925.25" y="194.25" width="1.5" height="1.5"/><rect x="925.25" y="292.25" width="1.5" height="1.5"/><rect x="925.25" y="389.25" width="1.5" height="1.5"/><rect x="925.25" y="487.25" width="1.5" height="1.5"/><rect x="925.25" y="584.25" width="1.5" height="1.5"/><rect x="925.25" y="682.25" width="1.5" height="1.5"/><rect x="941.25" y="-0.75" width="1.5" height="1.5"/><rect x="941.25" y="97.25" width="1.5" height="1.5"/><rect x="941.25" y="194.25" width="1.5" height="1.5"/><rect x="941.25" y="292.25" width="1.5" height="1.5"/><rect x="941.25" y="389.25" width="1.5" height="1.5"/><rect x="941.25" y="487.25" width="1.5" height="1.5"/><rect x="941.25" y="584.25" width="1.5" height="1.5"/><rect x="941.25" y="682.25" width="1.5" height="1.5"/><rect x="958.25" y="-0.75" width="1.5" height="1.5"/><rect x="958.25" y="97.25" width="1.5" height="1.5"/><rect x="958.25" y="194.25" width="1.5" height="1.5"/><rect x="958.25" y="292.25" width="1.5" height="1.5"/><rect x="958.25" y="389.25" width="1.5" height="1.5"/><rect x="958.25" y="487.25" width="1.5" height="1.5"/><rect x="958.25" y="584.25" width="1.5" height="1.5"/><rect x="958.25" y="682.25" width="1.5" height="1.5"/><rect x="974.25" y="-0.75" width="1.5" height="1.5"/><rect x="974.25" y="97.25" width="1.5" height="1.5"/><rect x="974.25" y="194.25" width="1.5" height="1.5"/><rect x="974.25" y="292.25" width="1.5" height="1.5"/><rect x="974.25" y="389.25" width="1.5" height="1.5"/><rect x="974.25" y="487.25" width="1.5" height="1.5"/><rect x="974.25" y="584.25" width="1.5" height="1.5"/><rect x="974.25" y="682.25" width="1.5" height="1.5"/><rect x="990.25" y="-0.75" width="1.5" height="1.5"/><rect x="990.25" y="15.25" width="1.5" height="1.5"/><rect x="990.25" y="32.25" width="1.5" height="1.5"/><rect x="990.25" y="48.25" width="1.5" height="1.5"/><rect x="990.25" y="64.25" width="1.5" height="1.5"/><rect x="990.25" y="80.25" width="1.5" height="1.5"/><rect x="990.25" y="97.25" width="1.5" height="1.5"/><rect x="990.25" y="113.25" width="1.5" height="1.5"/><rect x="990.25" y="129.25" width="1.5" height="1.5"/><rect x="990.25" y="145.25" width="1.5" height="1.5"/><rect x="990.25" y="162.25" width="1.5" height="1.5"/><rect x="990.25" y="178.25" width="1.5" height="1.5"/><rect x="990.25" y="194.25" width="1.5" height="1.5"/><rect x="990.25" y="210.25" width="1.5" height="1.5"/><rect x="990.25" y="227.25" width="1.5" height="1.5"/><rect x="990.25" y="243.25" width="1.5" height="1.5"/><rect x="990.25" y="259.25" width="1.5" height="1.5"/><rect x="990.25" y="275.25" width="1.5" height="1.5"/><rect x="990.25" y="292.25" width="1.5" height="1.5"/><rect x="990.25" y="308.25" width="1.5" height="1.5"/><rect x="990.25" y="324.25" width="1.5" height="1.5"/><rect x="990.25" y="340.25" width="1.5" height="1.5"/><rect x="990.25" y="357.25" width="1.5" height="1.5"/><rect x="990.25" y="373.25" width="1.5" height="1.5"/><rect x="990.25" y="389.25" width="1.5" height="1.5"/><rect x="990.25" y="405.25" width="1.5" height="1.5"/><rect x="990.25" y="422.25" width="1.5" height="1.5"/><rect x="990.25" y="438.25" width="1.5" height="1.5"/><rect x="990.25" y="454.25" width="1.5" height="1.5"/><rect x="990.25" y="470.25" width="1.5" height="1.5"/><rect x="990.25" y="487.25" width="1.5" height="1.5"/><rect x="990.25" y="503.25" width="1.5" height="1.5"/><rect x="990.25" y="519.25" width="1.5" height="1.5"/><rect x="990.25" y="535.25" width="1.5" height="1.5"/><rect x="990.25" y="552.25" width="1.5" height="1.5"/><rect x="990.25" y="568.25" width="1.5" height="1.5"/><rect x="990.25" y="584.25" width="1.5" height="1.5"/><rect x="990.25" y="600.25" width="1.5" height="1.5"/><rect x="990.25" y="617.25" width="1.5" height="1.5"/><rect x="990.25" y="633.25" width="1.5" height="1.5"/><rect x="990.25" y="649.25" width="1.5" height="1.5"/><rect x="990.25" y="665.25" width="1.5" height="1.5"/><rect x="990.25" y="682.25" width="1.5" height="1.5"/><rect x="990.25" y="698.25" width="1.5" height="1.5"/><rect x="990.25" y="714.25" width="1.5" height="1.5"/><rect x="990.25" y="730.25" width="1.5" height="1.5"/><rect x="1006.25" y="-0.75" width="1.5" height="1.5"/><rect x="1006.25" y="97.25" width="1.5" height="1.5"/><rect x="1006.25" y="194.25" width="1.5" height="1.5"/><rect x="1006.25" y="292.25" width="1.5" height="1.5"/><rect x="1006.25" y="389.25" width="1.5" height="1.5"/><rect x="1006.25" y="487.25" width="1.5" height="1.5"/><rect x="1006.25" y="584.25" width="1.5" height="1.5"/><rect x="1006.25" y="682.25" width="1.5" height="1.5"/><rect x="1023.25" y="-0.75" width="1.5" height="1.5"/><rect x="1023.25" y="97.25" width="1.5" height="1.5"/><rect x="1023.25" y="194.25" width="1.5" height="1.5"/><rect x="1023.25" y="292.25" width="1.5" height="1.5"/><rect x="1023.25" y="389.25" width="1.5" height="1.5"/><rect x="1023.25" y="487.25" width="1.5" height="1.5"/><rect x="1023.25" y="584.25" width="1.5" height="1.5"/><rect x="1023.25" y="682.25" width="1.5" height="1.5"/><rect x="1039.25" y="-0.75" width="1.5" height="1.5"/><rect x="1039.25" y="97.25" width="1.5" height="1.5"/><rect x="1039.25" y="194.25" width="1.5" height="1.5"/><rect x="1039.25" y="292.25" width="1.5" height="1.5"/><rect x="1039.25" y="389.25" width="1.5" height="1.5"/><rect x="1039.25" y="487.25" width="1.5" height="1.5"/><rect x="1039.25" y="584.25" width="1.5" height="1.5"/><rect x="1039.25" y="682.25" width="1.5" height="1.5"/><rect x="1055.25" y="-0.75" width="1.5" height="1.5"/><rect x="1055.25" y="97.25" width="1.5" height="1.5"/><rect x="1055.25" y="194.25" width="1.5" height="1.5"/><rect x="1055.25" y="292.25" width="1.5" height="1.5"/><rect x="1055.25" y="389.25" width="1.5" height="1.5"/><rect x="1055.25" y="487.25" width="1.5" height="1.5"/><rect x="1055.25" y="584.25" width="1.5" height="1.5"/><rect x="1055.25" y="682.25" width="1.5" height="1.5"/><rect x="1071.25" y="-0.75" width="1.5" height="1.5"/><rect x="1071.25" y="97.25" width="1.5" height="1.5"/><rect x="1071.25" y="194.25" width="1.5" height="1.5"/><rect x="1071.25" y="292.25" width="1.5" height="1.5"/><rect x="1071.25" y="389.25" width="1.5" height="1.5"/><rect x="1071.25" y="487.25" width="1.5" height="1.5"/><rect x="1071.25" y="584.25" width="1.5" height="1.5"/><rect x="1071.25" y="682.25" width="1.5" height="1.5"/><rect x="1088.25" y="-0.75" width="1.5" height="1.5"/><rect x="1088.25" y="15.25" width="1.5" height="1.5"/><rect x="1088.25" y="32.25" width="1.5" height="1.5"/><rect x="1088.25" y="48.25" width="1.5" height="1.5"/><rect x="1088.25" y="64.25" width="1.5" height="1.5"/><rect x="1088.25" y="80.25" width="1.5" height="1.5"/><rect x="1088.25" y="97.25" width="1.5" height="1.5"/><rect x="1088.25" y="113.25" width="1.5" height="1.5"/><rect x="1088.25" y="129.25" width="1.5" height="1.5"/><rect x="1088.25" y="145.25" width="1.5" height="1.5"/><rect x="1088.25" y="162.25" width="1.5" height="1.5"/><rect x="1088.25" y="178.25" width="1.5" height="1.5"/><rect x="1088.25" y="194.25" width="1.5" height="1.5"/><rect x="1088.25" y="210.25" width="1.5" height="1.5"/><rect x="1088.25" y="227.25" width="1.5" height="1.5"/><rect x="1088.25" y="243.25" width="1.5" height="1.5"/><rect x="1088.25" y="259.25" width="1.5" height="1.5"/><rect x="1088.25" y="275.25" width="1.5" height="1.5"/><rect x="1088.25" y="292.25" width="1.5" height="1.5"/><rect x="1088.25" y="308.25" width="1.5" height="1.5"/><rect x="1088.25" y="324.25" width="1.5" height="1.5"/><rect x="1088.25" y="340.25" width="1.5" height="1.5"/><rect x="1088.25" y="357.25" width="1.5" height="1.5"/><rect x="1088.25" y="373.25" width="1.5" height="1.5"/><rect x="1088.25" y="389.25" width="1.5" height="1.5"/><rect x="1088.25" y="405.25" width="1.5" height="1.5"/><rect x="1088.25" y="422.25" width="1.5" height="1.5"/><rect x="1088.25" y="438.25" width="1.5" height="1.5"/><rect x="1088.25" y="454.25" width="1.5" height="1.5"/><rect x="1088.25" y="470.25" width="1.5" height="1.5"/><rect x="1088.25" y="487.25" width="1.5" height="1.5"/><rect x="1088.25" y="503.25" width="1.5" height="1.5"/><rect x="1088.25" y="519.25" width="1.5" height="1.5"/><rect x="1088.25" y="535.25" width="1.5" height="1.5"/><rect x="1088.25" y="552.25" width="1.5" height="1.5"/><rect x="1088.25" y="568.25" width="1.5" height="1.5"/><rect x="1088.25" y="584.25" width="1.5" height="1.5"/><rect x="1088.25" y="600.25" width="1.5" height="1.5"/><rect x="1088.25" y="617.25" width="1.5" height="1.5"/><rect x="1088.25" y="633.25" width="1.5" height="1.5"/><rect x="1088.25" y="649.25" width="1.5" height="1.5"/><rect x="1088.25" y="665.25" width="1.5" height="1.5"/><rect x="1088.25" y="682.25" width="1.5" height="1.5"/><rect x="1088.25" y="698.25" width="1.5" height="1.5"/><rect x="1088.25" y="714.25" width="1.5" height="1.5"/><rect x="1088.25" y="730.25" width="1.5" height="1.5"/><rect x="1104.25" y="-0.75" width="1.5" height="1.5"/><rect x="1104.25" y="97.25" width="1.5" height="1.5"/><rect x="1104.25" y="194.25" width="1.5" height="1.5"/><rect x="1104.25" y="292.25" width="1.5" height="1.5"/><rect x="1104.25" y="389.25" width="1.5" height="1.5"/><rect x="1104.25" y="487.25" width="1.5" height="1.5"/><rect x="1104.25" y="584.25" width="1.5" height="1.5"/><rect x="1104.25" y="682.25" width="1.5" height="1.5"/><rect x="1120.25" y="-0.75" width="1.5" height="1.5"/><rect x="1120.25" y="97.25" width="1.5" height="1.5"/><rect x="1120.25" y="194.25" width="1.5" height="1.5"/><rect x="1120.25" y="292.25" width="1.5" height="1.5"/><rect x="1120.25" y="389.25" width="1.5" height="1.5"/><rect x="1120.25" y="487.25" width="1.5" height="1.5"/><rect x="1120.25" y="584.25" width="1.5" height="1.5"/><rect x="1120.25" y="682.25" width="1.5" height="1.5"/><rect x="1136.25" y="-0.75" width="1.5" height="1.5"/><rect x="1136.25" y="97.25" width="1.5" height="1.5"/><rect x="1136.25" y="194.25" width="1.5" height="1.5"/><rect x="1136.25" y="292.25" width="1.5" height="1.5"/><rect x="1136.25" y="389.25" width="1.5" height="1.5"/><rect x="1136.25" y="487.25" width="1.5" height="1.5"/><rect x="1136.25" y="584.25" width="1.5" height="1.5"/><rect x="1136.25" y="682.25" width="1.5" height="1.5"/><rect x="1153.25" y="-0.75" width="1.5" height="1.5"/><rect x="1153.25" y="97.25" width="1.5" height="1.5"/><rect x="1153.25" y="194.25" width="1.5" height="1.5"/><rect x="1153.25" y="292.25" width="1.5" height="1.5"/><rect x="1153.25" y="389.25" width="1.5" height="1.5"/><rect x="1153.25" y="487.25" width="1.5" height="1.5"/><rect x="1153.25" y="584.25" width="1.5" height="1.5"/><rect x="1153.25" y="682.25" width="1.5" height="1.5"/><rect x="1169.25" y="-0.75" width="1.5" height="1.5"/><rect x="1169.25" y="97.25" width="1.5" height="1.5"/><rect x="1169.25" y="194.25" width="1.5" height="1.5"/><rect x="1169.25" y="292.25" width="1.5" height="1.5"/><rect x="1169.25" y="389.25" width="1.5" height="1.5"/><rect x="1169.25" y="487.25" width="1.5" height="1.5"/><rect x="1169.25" y="584.25" width="1.5" height="1.5"/><rect x="1169.25" y="682.25" width="1.5" height="1.5"/><rect x="1185.25" y="-0.75" width="1.5" height="1.5"/><rect x="1185.25" y="15.25" width="1.5" height="1.5"/><rect x="1185.25" y="32.25" width="1.5" height="1.5"/><rect x="1185.25" y="48.25" width="1.5" height="1.5"/><rect x="1185.25" y="64.25" width="1.5" height="1.5"/><rect x="1185.25" y="80.25" width="1.5" height="1.5"/><rect x="1185.25" y="97.25" width="1.5" height="1.5"/><rect x="1185.25" y="113.25" width="1.5" height="1.5"/><rect x="1185.25" y="129.25" width="1.5" height="1.5"/><rect x="1185.25" y="145.25" width="1.5" height="1.5"/><rect x="1185.25" y="162.25" width="1.5" height="1.5"/><rect x="1185.25" y="178.25" width="1.5" height="1.5"/><rect x="1185.25" y="194.25" width="1.5" height="1.5"/><rect x="1185.25" y="210.25" width="1.5" height="1.5"/><rect x="1185.25" y="227.25" width="1.5" height="1.5"/><rect x="1185.25" y="243.25" width="1.5" height="1.5"/><rect x="1185.25" y="259.25" width="1.5" height="1.5"/><rect x="1185.25" y="275.25" width="1.5" height="1.5"/><rect x="1185.25" y="292.25" width="1.5" height="1.5"/><rect x="1185.25" y="308.25" width="1.5" height="1.5"/><rect x="1185.25" y="324.25" width="1.5" height="1.5"/><rect x="1185.25" y="340.25" width="1.5" height="1.5"/><rect x="1185.25" y="357.25" width="1.5" height="1.5"/><rect x="1185.25" y="373.25" width="1.5" height="1.5"/><rect x="1185.25" y="389.25" width="1.5" height="1.5"/><rect x="1185.25" y="405.25" width="1.5" height="1.5"/><rect x="1185.25" y="422.25" width="1.5" height="1.5"/><rect x="1185.25" y="438.25" width="1.5" height="1.5"/><rect x="1185.25" y="454.25" width="1.5" height="1.5"/><rect x="1185.25" y="470.25" width="1.5" height="1.5"/><rect x="1185.25" y="487.25" width="1.5" height="1.5"/><rect x="1185.25" y="503.25" width="1.5" height="1.5"/><rect x="1185.25" y="519.25" width="1.5" height="1.5"/><rect x="1185.25" y="535.25" width="1.5" height="1.5"/><rect x="1185.25" y="552.25" width="1.5" height="1.5"/><rect x="1185.25" y="568.25" width="1.5" height="1.5"/><rect x="1185.25" y="584.25" width="1.5" height="1.5"/><rect x="1185.25" y="600.25" width="1.5" height="1.5"/><rect x="1185.25" y="617.25" width="1.5" height="1.5"/><rect x="1185.25" y="633.25" width="1.5" height="1.5"/><rect x="1185.25" y="649.25" width="1.5" height="1.5"/><rect x="1185.25" y="665.25" width="1.5" height="1.5"/><rect x="1185.25" y="682.25" width="1.5" height="1.5"/><rect x="1185.25" y="698.25" width="1.5" height="1.5"/><rect x="1185.25" y="714.25" width="1.5" height="1.5"/><rect x="1185.25" y="730.25" width="1.5" height="1.5"/><rect x="1201.25" y="-0.75" width="1.5" height="1.5"/><rect x="1201.25" y="97.25" width="1.5" height="1.5"/><rect x="1201.25" y="194.25" width="1.5" height="1.5"/><rect x="1201.25" y="292.25" width="1.5" height="1.5"/><rect x="1201.25" y="389.25" width="1.5" height="1.5"/><rect x="1201.25" y="487.25" width="1.5" height="1.5"/><rect x="1201.25" y="584.25" width="1.5" height="1.5"/><rect x="1201.25" y="682.25" width="1.5" height="1.5"/><rect x="1218.25" y="-0.75" width="1.5" height="1.5"/><rect x="1218.25" y="97.25" width="1.5" height="1.5"/><rect x="1218.25" y="194.25" width="1.5" height="1.5"/><rect x="1218.25" y="292.25" width="1.5" height="1.5"/><rect x="1218.25" y="389.25" width="1.5" height="1.5"/><rect x="1218.25" y="487.25" width="1.5" height="1.5"/><rect x="1218.25" y="584.25" width="1.5" height="1.5"/><rect x="1218.25" y="682.25" width="1.5" height="1.5"/><rect x="1234.25" y="-0.75" width="1.5" height="1.5"/><rect x="1234.25" y="97.25" width="1.5" height="1.5"/><rect x="1234.25" y="194.25" width="1.5" height="1.5"/><rect x="1234.25" y="292.25" width="1.5" height="1.5"/><rect x="1234.25" y="389.25" width="1.5" height="1.5"/><rect x="1234.25" y="487.25" width="1.5" height="1.5"/><rect x="1234.25" y="584.25" width="1.5" height="1.5"/><rect x="1234.25" y="682.25" width="1.5" height="1.5"/><rect x="1250.25" y="-0.75" width="1.5" height="1.5"/><rect x="1250.25" y="97.25" width="1.5" height="1.5"/><rect x="1250.25" y="194.25" width="1.5" height="1.5"/><rect x="1250.25" y="292.25" width="1.5" height="1.5"/><rect x="1250.25" y="389.25" width="1.5" height="1.5"/><rect x="1250.25" y="487.25" width="1.5" height="1.5"/><rect x="1250.25" y="584.25" width="1.5" height="1.5"/><rect x="1250.25" y="682.25" width="1.5" height="1.5"/><rect x="1266.25" y="-0.75" width="1.5" height="1.5"/><rect x="1266.25" y="97.25" width="1.5" height="1.5"/><rect x="1266.25" y="194.25" width="1.5" height="1.5"/><rect x="1266.25" y="292.25" width="1.5" height="1.5"/><rect x="1266.25" y="389.25" width="1.5" height="1.5"/><rect x="1266.25" y="487.25" width="1.5" height="1.5"/><rect x="1266.25" y="584.25" width="1.5" height="1.5"/><rect x="1266.25" y="682.25" width="1.5" height="1.5"/><rect x="1283.25" y="-0.75" width="1.5" height="1.5"/><rect x="1283.25" y="15.25" width="1.5" height="1.5"/><rect x="1283.25" y="32.25" width="1.5" height="1.5"/><rect x="1283.25" y="48.25" width="1.5" height="1.5"/><rect x="1283.25" y="64.25" width="1.5" height="1.5"/><rect x="1283.25" y="80.25" width="1.5" height="1.5"/><rect x="1283.25" y="97.25" width="1.5" height="1.5"/><rect x="1283.25" y="113.25" width="1.5" height="1.5"/><rect x="1283.25" y="129.25" width="1.5" height="1.5"/><rect x="1283.25" y="145.25" width="1.5" height="1.5"/><rect x="1283.25" y="162.25" width="1.5" height="1.5"/><rect x="1283.25" y="178.25" width="1.5" height="1.5"/><rect x="1283.25" y="194.25" width="1.5" height="1.5"/><rect x="1283.25" y="210.25" width="1.5" height="1.5"/><rect x="1283.25" y="227.25" width="1.5" height="1.5"/><rect x="1283.25" y="243.25" width="1.5" height="1.5"/><rect x="1283.25" y="259.25" width="1.5" height="1.5"/><rect x="1283.25" y="275.25" width="1.5" height="1.5"/><rect x="1283.25" y="292.25" width="1.5" height="1.5"/><rect x="1283.25" y="308.25" width="1.5" height="1.5"/><rect x="1283.25" y="324.25" width="1.5" height="1.5"/><rect x="1283.25" y="340.25" width="1.5" height="1.5"/><rect x="1283.25" y="357.25" width="1.5" height="1.5"/><rect x="1283.25" y="373.25" width="1.5" height="1.5"/><rect x="1283.25" y="389.25" width="1.5" height="1.5"/><rect x="1283.25" y="405.25" width="1.5" height="1.5"/><rect x="1283.25" y="422.25" width="1.5" height="1.5"/><rect x="1283.25" y="438.25" width="1.5" height="1.5"/><rect x="1283.25" y="454.25" width="1.5" height="1.5"/><rect x="1283.25" y="470.25" width="1.5" height="1.5"/><rect x="1283.25" y="487.25" width="1.5" height="1.5"/><rect x="1283.25" y="503.25" width="1.5" height="1.5"/><rect x="1283.25" y="519.25" width="1.5" height="1.5"/><rect x="1283.25" y="535.25" width="1.5" height="1.5"/><rect x="1283.25" y="552.25" width="1.5" height="1.5"/><rect x="1283.25" y="568.25" width="1.5" height="1.5"/><rect x="1283.25" y="584.25" width="1.5" height="1.5"/><rect x="1283.25" y="600.25" width="1.5" height="1.5"/><rect x="1283.25" y="617.25" width="1.5" height="1.5"/><rect x="1283.25" y="633.25" width="1.5" height="1.5"/><rect x="1283.25" y="649.25" width="1.5" height="1.5"/><rect x="1283.25" y="665.25" width="1.5" height="1.5"/><rect x="1283.25" y="682.25" width="1.5" height="1.5"/><rect x="1283.25" y="698.25" width="1.5" height="1.5"/><rect x="1283.25" y="714.25" width="1.5" height="1.5"/><rect x="1283.25" y="730.25" width="1.5" height="1.5"/><rect x="1299.25" y="-0.75" width="1.5" height="1.5"/><rect x="1299.25" y="97.25" width="1.5" height="1.5"/><rect x="1299.25" y="194.25" width="1.5" height="1.5"/><rect x="1299.25" y="292.25" width="1.5" height="1.5"/><rect x="1299.25" y="389.25" width="1.5" height="1.5"/><rect x="1299.25" y="487.25" width="1.5" height="1.5"/><rect x="1299.25" y="584.25" width="1.5" height="1.5"/><rect x="1299.25" y="682.25" width="1.5" height="1.5"/><rect x="1315.25" y="-0.75" width="1.5" height="1.5"/><rect x="1315.25" y="97.25" width="1.5" height="1.5"/><rect x="1315.25" y="194.25" width="1.5" height="1.5"/><rect x="1315.25" y="292.25" width="1.5" height="1.5"/><rect x="1315.25" y="389.25" width="1.5" height="1.5"/><rect x="1315.25" y="487.25" width="1.5" height="1.5"/><rect x="1315.25" y="584.25" width="1.5" height="1.5"/><rect x="1315.25" y="682.25" width="1.5" height="1.5"/><rect x="1331.25" y="-0.75" width="1.5" height="1.5"/><rect x="1331.25" y="97.25" width="1.5" height="1.5"/><rect x="1331.25" y="194.25" width="1.5" height="1.5"/><rect x="1331.25" y="292.25" width="1.5" height="1.5"/><rect x="1331.25" y="389.25" width="1.5" height="1.5"/><rect x="1331.25" y="487.25" width="1.5" height="1.5"/><rect x="1331.25" y="584.25" width="1.5" height="1.5"/><rect x="1331.25" y="682.25" width="1.5" height="1.5"/></g>
<rect x="16.00" y="-1.00" width="584.00" height="98.50" rx="17" fill="#78cfea" filter="url(#sh)"/>
<clipPath id="c1"><rect x="24.50" y="9.00" width="566.50" height="79.50" rx="10"/></clipPath>
<g clip-path="url(#c1)">
<rect x="24.50" y="9.00" width="566.50" height="79.50" rx="0" fill="#ffffff"/>
<rect x="24.50" y="9.00" width="566.50" height="79.50" rx="0" fill="#bbe8f7"/>
</g>
<rect x="16.00" y="113.50" width="243.00" height="129.80" rx="17" fill="#78cfea"/>
<clipPath id="c2"><rect x="25.00" y="122.00" width="225.00" height="112.70" rx="10"/></clipPath>
<g clip-path="url(#c2)">
<rect x="25.00" y="122.00" width="225.00" height="112.70" rx="0" fill="#e6e6e6"/>
<rect x="25.00" y="122.00" width="225.00" height="42.00" rx="0" fill="#bbe8f7"/>
</g>
<rect x="275.40" y="113.50" width="324.60" height="129.80" rx="17" fill="#78cfea"/>
<clipPath id="c3"><rect x="284.00" y="122.00" width="307.00" height="112.70" rx="10"/></clipPath>
<g clip-path="url(#c3)">
<rect x="284.00" y="122.00" width="307.00" height="112.70" rx="0" fill="#e6e6e6"/>
<rect x="284.00" y="122.00" width="307.00" height="42.00" rx="0" fill="#bbe8f7"/>
</g>
<rect x="16.00" y="276.30" width="243.00" height="145.70" rx="17" fill="#5cc5e6"/>
<clipPath id="c4"><rect x="24.50" y="285.00" width="225.80" height="128.40" rx="10"/></clipPath>
<g clip-path="url(#c4)">
<rect x="24.50" y="285.00" width="225.80" height="128.40" rx="0" fill="#e6e6e6"/>
<rect x="24.50" y="285.00" width="225.80" height="40.60" rx="0" fill="#bbe8f7"/>
</g>
<rect x="275.30" y="276.30" width="324.30" height="145.30" rx="17" fill="#78cfea"/>
<clipPath id="c5"><rect x="284.00" y="284.80" width="307.30" height="128.70" rx="10"/></clipPath>
<g clip-path="url(#c5)">
<rect x="284.00" y="284.80" width="307.30" height="128.70" rx="0" fill="#e6e6e6"/>
<rect x="284.00" y="284.80" width="307.30" height="40.80" rx="0" fill="#bbe8f7"/>
</g>
<rect x="616.60" y="-1.00" width="340.40" height="98.00" rx="17" fill="#78cfea"/>
<clipPath id="c6"><rect x="625.50" y="9.00" width="323.30" height="79.50" rx="10"/></clipPath>
<g clip-path="url(#c6)">
<rect x="625.50" y="9.00" width="323.30" height="79.50" rx="0" fill="#ffffff"/>
<rect x="625.50" y="9.00" width="323.30" height="41.00" rx="0" fill="#bbe8f7"/>
</g>
<rect x="616.60" y="114.00" width="340.40" height="96.50" rx="17" fill="#78cfea"/>
<clipPath id="c7"><rect x="625.50" y="122.20" width="323.30" height="79.40" rx="10"/></clipPath>
<g clip-path="url(#c7)">
<rect x="625.50" y="122.20" width="323.30" height="79.40" rx="0" fill="#ffffff"/>
<rect x="625.50" y="122.20" width="323.30" height="42.10" rx="0" fill="#bbe8f7"/>
</g>
<rect x="974.50" y="-1.00" width="340.30" height="212.30" rx="17" fill="#78cfea" filter="url(#sh)"/>
<clipPath id="c8"><rect x="982.70" y="9.00" width="323.60" height="192.60" rx="10"/></clipPath>
<g clip-path="url(#c8)">
<rect x="982.70" y="9.00" width="323.60" height="192.60" rx="0" fill="#ffffff"/>
<rect x="982.70" y="9.00" width="323.60" height="41.00" rx="0" fill="#bbe8f7"/>
</g>
<rect x="665.50" y="227.70" width="649.30" height="242.30" rx="17" fill="#78cfea" filter="url(#sh)"/>
<clipPath id="c9"><rect x="674.00" y="236.00" width="632.00" height="225.80" rx="10"/></clipPath>
<g clip-path="url(#c9)">
<rect x="674.00" y="236.00" width="632.00" height="225.80" rx="0" fill="#ffffff"/>
<rect x="674.00" y="236.00" width="632.00" height="41.50" rx="0" fill="#bbe8f7"/>
</g>
<rect x="16.00" y="439.00" width="632.70" height="290.80" rx="17" fill="#78cfea" filter="url(#sh)"/>
<clipPath id="c10"><rect x="24.30" y="446.80" width="616.30" height="275.60" rx="10"/></clipPath>
<g clip-path="url(#c10)">
<rect x="24.30" y="446.80" width="616.30" height="275.60" rx="0" fill="#ffffff"/>
<rect x="24.30" y="446.80" width="616.30" height="41.90" rx="0" fill="#bbe8f7"/>
</g>
<rect x="665.70" y="487.60" width="649.30" height="242.90" rx="17" fill="#78cfea" filter="url(#sh)"/>
<clipPath id="c11"><rect x="674.60" y="496.00" width="631.80" height="226.40" rx="10"/></clipPath>
<g clip-path="url(#c11)">
<rect x="674.60" y="496.00" width="631.80" height="226.40" rx="0" fill="#ffffff"/>
<rect x="674.60" y="496.00" width="631.80" height="71.60" rx="0" fill="#bbe8f7"/>
</g>
<text x="76.63" y="60.90" font-size="43.86" font-weight="700" fill="#7448c8" textLength="57.69" lengthAdjust="spacingAndGlyphs">HR</text>
<text x="153.71" y="60.90" font-size="43.86" font-weight="700" fill="#7448c8" textLength="176.42" lengthAdjust="spacingAndGlyphs">Analytics</text>
<text x="348.59" y="60.90" font-size="43.86" font-weight="700" fill="#7448c8" textLength="208.49" lengthAdjust="spacingAndGlyphs">DashBoard</text>
<text x="60.84" y="153.20" font-size="23.03" font-weight="700" fill="#5c3ba6" textLength="54.99" lengthAdjust="spacingAndGlyphs">Total</text>
<text x="124.45" y="153.20" font-size="23.03" font-weight="700" fill="#5c3ba6" textLength="106.88" lengthAdjust="spacingAndGlyphs">Employees</text>
<text x="346.48" y="153.40" font-size="23.03" font-weight="700" fill="#5c3ba6" textLength="45.15" lengthAdjust="spacingAndGlyphs">Avg.</text>
<text x="402.14" y="153.40" font-size="23.03" font-weight="700" fill="#5c3ba6" textLength="95.75" lengthAdjust="spacingAndGlyphs">Employee</text>
<text x="508.39" y="153.40" font-size="23.03" font-weight="700" fill="#5c3ba6" textLength="38.81" lengthAdjust="spacingAndGlyphs">Age</text>
<text x="80.56" y="315.50" font-size="22.20" font-weight="700" fill="#5c3ba6" textLength="46.62" lengthAdjust="spacingAndGlyphs">Avg.</text>
<text x="135.45" y="315.50" font-size="22.20" font-weight="700" fill="#5c3ba6" textLength="75.69" lengthAdjust="spacingAndGlyphs">Income</text>
<text x="335.21" y="315.50" font-size="22.62" font-weight="700" fill="#5c3ba6" textLength="55.83" lengthAdjust="spacingAndGlyphs">Num.</text>
<text x="401.95" y="315.50" font-size="22.62" font-weight="700" fill="#5c3ba6" textLength="154.86" lengthAdjust="spacingAndGlyphs">ActiveWorkers</text>
<path d="M91.30,169.90 L97.60,169.90 L97.60,208.90 L91.30,208.90 L91.30,177.10 L84.60,180.70 L84.60,174.50 Z" fill="#222222"/>
<text x="109.07" y="208.25" font-size="54.80" font-weight="400" fill="#222222" textLength="26.16" lengthAdjust="spacingAndGlyphs" stroke="#222222" stroke-width="1.3">4</text>
<text x="140.08" y="208.25" font-size="54.80" font-weight="400" fill="#222222" textLength="25.69" lengthAdjust="spacingAndGlyphs" stroke="#222222" stroke-width="1.3">7</text>
<text x="169.24" y="208.25" font-size="54.80" font-weight="400" fill="#222222" textLength="25.71" lengthAdjust="spacingAndGlyphs" stroke="#222222" stroke-width="1.3">0</text>
<text x="409.63" y="219.05" font-size="54.22" font-weight="400" fill="#222222" textLength="25.10" lengthAdjust="spacingAndGlyphs" stroke="#222222" stroke-width="1.3">3</text>
<text x="440.15" y="219.05" font-size="54.22" font-weight="400" fill="#222222" textLength="26.06" lengthAdjust="spacingAndGlyphs" stroke="#222222" stroke-width="1.3">7</text>
<text x="69.10" y="390.45" font-size="55.09" font-weight="400" fill="#222222" textLength="26.88" lengthAdjust="spacingAndGlyphs" stroke="#222222" stroke-width="1.3">6</text>
<text x="96.03" y="390.45" font-size="55.09" font-weight="400" fill="#222222" textLength="13.13" lengthAdjust="spacingAndGlyphs" stroke="#222222" stroke-width="1.3">.</text>
<text x="112.31" y="390.45" font-size="55.09" font-weight="400" fill="#222222" textLength="25.57" lengthAdjust="spacingAndGlyphs" stroke="#222222" stroke-width="1.3">5</text>
<text x="143.47" y="390.45" font-size="55.09" font-weight="400" fill="#222222" textLength="25.36" lengthAdjust="spacingAndGlyphs" stroke="#222222" stroke-width="1.3">0</text>
<text x="171.08" y="390.45" font-size="55.09" font-weight="400" fill="#222222" textLength="33.95" lengthAdjust="spacingAndGlyphs" stroke="#222222" stroke-width="1.3">K</text>
<path d="M389.50,351.80 L395.80,351.80 L395.80,390.90 L389.50,390.90 L389.50,359.00 L383.70,362.60 L383.70,356.40 Z" fill="#222222"/>
<text x="408.23" y="390.25" font-size="54.94" font-weight="400" fill="#222222" textLength="25.10" lengthAdjust="spacingAndGlyphs" stroke="#222222" stroke-width="1.3">3</text>
<text x="441.06" y="390.25" font-size="54.94" font-weight="400" fill="#222222" textLength="23.46" lengthAdjust="spacingAndGlyphs" stroke="#222222" stroke-width="1.3">5</text>
<text x="471.03" y="390.25" font-size="54.94" font-weight="400" fill="#222222" textLength="25.10" lengthAdjust="spacingAndGlyphs" stroke="#222222" stroke-width="1.3">3</text>
<text x="734.32" y="39.70" font-size="22.62" font-weight="700" fill="#2c4596" textLength="122.65" lengthAdjust="spacingAndGlyphs">Department</text>
<text x="758.74" y="153.40" font-size="23.30" font-weight="700" fill="#2c4596" textLength="73.48" lengthAdjust="spacingAndGlyphs">Gender</text>
<text x="1050.74" y="38.80" font-size="21.24" font-weight="700" fill="#2c4596" textLength="73.28" lengthAdjust="spacingAndGlyphs">Gender</text>
<text x="1133.32" y="38.80" font-size="21.24" font-weight="700" fill="#2c4596" textLength="123.74" lengthAdjust="spacingAndGlyphs">Distribution</text>
<text x="817.57" y="267.10" font-size="23.03" font-weight="700" fill="#2c4596" textLength="36.75" lengthAdjust="spacingAndGlyphs">Top</text>
<text x="862.32" y="267.10" font-size="23.03" font-weight="700" fill="#2c4596" textLength="27.91" lengthAdjust="spacingAndGlyphs">10</text>
<text x="896.63" y="267.10" font-size="23.03" font-weight="700" fill="#2c4596" textLength="107.80" lengthAdjust="spacingAndGlyphs">Employees</text>
<text x="1012.65" y="267.10" font-size="23.03" font-weight="700" fill="#2c4596" textLength="60.58" lengthAdjust="spacingAndGlyphs">Based</text>
<text x="1083.02" y="267.10" font-size="23.03" font-weight="700" fill="#2c4596" textLength="24.31" lengthAdjust="spacingAndGlyphs">on</text>
<text x="1115.85" y="267.10" font-size="23.03" font-weight="700" fill="#2c4596" textLength="67.67" lengthAdjust="spacingAndGlyphs">Salary</text>
<text x="52.37" y="477.40" font-size="21.52" font-weight="700" fill="#2c4596" textLength="84.36" lengthAdjust="spacingAndGlyphs">Relation</text>
<text x="145.07" y="477.40" font-size="21.52" font-weight="700" fill="#2c4596" textLength="87.96" lengthAdjust="spacingAndGlyphs">Between</text>
<text x="240.33" y="477.40" font-size="21.52" font-weight="700" fill="#2c4596" textLength="96.77" lengthAdjust="spacingAndGlyphs">Employee</text>
<text x="345.09" y="477.40" font-size="21.52" font-weight="700" fill="#2c4596" textLength="48.14" lengthAdjust="spacingAndGlyphs">level</text>
<text x="401.90" y="477.40" font-size="21.52" font-weight="700" fill="#2c4596" textLength="36.56" lengthAdjust="spacingAndGlyphs">and</text>
<text x="446.46" y="477.40" font-size="21.52" font-weight="700" fill="#2c4596" textLength="114.57" lengthAdjust="spacingAndGlyphs">Experience</text>
<text x="569.12" y="477.40" font-size="21.52" font-weight="700" fill="#2c4596" textLength="59.98" lengthAdjust="spacingAndGlyphs">Years</text>
<text x="707.56" y="527.70" font-size="22.89" font-weight="700" fill="#2c4596" textLength="105.76" lengthAdjust="spacingAndGlyphs">Employees</text>
<text x="822.93" y="527.70" font-size="22.89" font-weight="700" fill="#2c4596" textLength="123.13" lengthAdjust="spacingAndGlyphs">Distribution</text>
<text x="953.24" y="527.70" font-size="22.89" font-weight="700" fill="#2c4596" textLength="26.08" lengthAdjust="spacingAndGlyphs">In</text>
<text x="987.15" y="527.70" font-size="22.89" font-weight="700" fill="#2c4596" textLength="132.74" lengthAdjust="spacingAndGlyphs">Departments</text>
<text x="1129.92" y="527.70" font-size="22.89" font-weight="700" fill="#2c4596" textLength="35.29" lengthAdjust="spacingAndGlyphs">and</text>
<text x="1174.63" y="527.70" font-size="22.89" font-weight="700" fill="#2c4596" textLength="115.04" lengthAdjust="spacingAndGlyphs">Retirement</text>
<text x="964.54" y="557.70" font-size="22.89" font-weight="700" fill="#2c4596" textLength="69.49" lengthAdjust="spacingAndGlyphs">Status</text>
<rect x="641.8" y="55.2" width="289.9" height="31.6" fill="#fff" stroke="#eeeeee" stroke-width="1"/>
<text x="647.37" y="79.00" font-size="15.70" font-weight="400" fill="#666666" textLength="19.30" lengthAdjust="spacingAndGlyphs">All</text>
<polyline points="910.9,66.8 918.5,74.8 926.1,66.8" fill="none" stroke="#555" stroke-width="1.3"/>
<rect x="641.8" y="169.2" width="289.9" height="31.7" fill="#fff" stroke="#eeeeee" stroke-width="1"/>
<text x="647.37" y="192.20" font-size="15.70" font-weight="400" fill="#666666" textLength="19.30" lengthAdjust="spacingAndGlyphs">All</text>
<polyline points="910.9,180.9 918.5,188.9 926.1,180.9" fill="none" stroke="#555" stroke-width="1.3"/>
<path d="M1110.80,67.80 A52.7,52.7 0 1 1 1079.97,163.24 L1092.32,146.13 A31.6,31.6 0 1 0 1110.80,88.90 Z" fill="#4a5bc2"/>
<path d="M1079.97,163.24 A52.7,52.7 0 0 1 1110.80,67.80 L1110.80,88.90 A31.6,31.6 0 0 0 1092.32,146.13 Z" fill="#5ac8e8"/>
<text x="1039.93" y="69.10" font-size="12.06" font-weight="400" fill="#666666" textLength="19.69" lengthAdjust="spacingAndGlyphs">588</text>
<text x="1028.68" y="85.80" font-size="12.20" font-weight="400" fill="#666666" textLength="31.15" lengthAdjust="spacingAndGlyphs">(40%)</text>
<text x="1145.39" y="182.10" font-size="12.06" font-weight="400" fill="#666666" textLength="53.83" lengthAdjust="spacingAndGlyphs">882 (60%)</text>
<polyline points="1063.7,71.8 1075.8,71.8 1079.3,77" fill="none" stroke="#9a9a9a" stroke-width="1"/>
<polyline points="1127.8,172.3 1131.3,177.3 1141.1,177.3" fill="none" stroke="#9a9a9a" stroke-width="1"/>
<text x="1227.46" y="101.00" font-size="13.66" font-weight="700" fill="#555555" textLength="46.14" lengthAdjust="spacingAndGlyphs">Gender</text>
<circle cx="1233.2" cy="117.6" r="5.8" fill="#4a5bc2"/>
<circle cx="1233.2" cy="142.6" r="5.8" fill="#5ac8e8"/>
<text x="1240.47" y="121.80" font-size="13.66" font-weight="400" fill="#666666" textLength="29.73" lengthAdjust="spacingAndGlyphs">Male</text>
<text x="1240.54" y="147.80" font-size="13.66" font-weight="400" fill="#666666" textLength="43.24" lengthAdjust="spacingAndGlyphs">Female</text>
<clipPath id="tbl"><rect x="674" y="277.5" width="620" height="165.5"/></clipPath>
<g clip-path="url(#tbl)">
<text x="690.90" y="292.80" font-size="13.66" font-weight="400" fill="#333333" textLength="107.42" lengthAdjust="spacingAndGlyphs">EmployeeNumber</text>
<text x="809.98" y="292.80" font-size="13.66" font-weight="400" fill="#333333" textLength="140.43" lengthAdjust="spacingAndGlyphs">Sum of MonthlyIncome</text>
<text x="960.82" y="292.80" font-size="13.66" font-weight="400" fill="#333333" textLength="44.90" lengthAdjust="spacingAndGlyphs">Gender</text>
<text x="1015.71" y="292.80" font-size="13.66" font-weight="400" fill="#333333" textLength="147.82" lengthAdjust="spacingAndGlyphs">Sum of YearsAtCompany</text>
<text x="1174.19" y="292.80" font-size="13.66" font-weight="400" fill="#333333" textLength="100.30" lengthAdjust="spacingAndGlyphs">PromotionStatus</text>
<path d="M811,298 L819,298 L815,303 Z" fill="#222"/>
<rect x="686.00" y="305.80" width="599.80" height="1.30" rx="0" fill="#4aa0d6"/>
<text x="800.30" y="321.80" font-size="13.60" font-weight="400" fill="#333333" text-anchor="end" textLength="21.33" lengthAdjust="spacingAndGlyphs">259</text>
<text x="951.00" y="321.80" font-size="13.60" font-weight="400" fill="#333333" text-anchor="end" textLength="35.55" lengthAdjust="spacingAndGlyphs">19999</text>
<text x="961.00" y="321.80" font-size="13.60" font-weight="400" fill="#333333" text-anchor="start" textLength="28.59" lengthAdjust="spacingAndGlyphs">Male</text>
<text x="1164.20" y="321.80" font-size="13.60" font-weight="400" fill="#333333" text-anchor="end" textLength="14.22" lengthAdjust="spacingAndGlyphs">33</text>
<text x="1174.80" y="321.80" font-size="13.60" font-weight="400" fill="#333333" text-anchor="start" textLength="104.11" lengthAdjust="spacingAndGlyphs">DueForPromotion</text>
<rect x="686.00" y="327.10" width="599.80" height="21.60" rx="0" fill="#ececec"/>
<text x="800.30" y="343.40" font-size="13.60" font-weight="400" fill="#333333" text-anchor="end" textLength="28.44" lengthAdjust="spacingAndGlyphs">1035</text>
<text x="951.00" y="343.40" font-size="13.60" font-weight="400" fill="#333333" text-anchor="end" textLength="35.55" lengthAdjust="spacingAndGlyphs">19973</text>
<text x="961.00" y="343.40" font-size="13.60" font-weight="400" fill="#333333" text-anchor="start" textLength="43.99" lengthAdjust="spacingAndGlyphs">Female</text>
<text x="1164.20" y="343.40" font-size="13.60" font-weight="400" fill="#333333" text-anchor="end" textLength="14.22" lengthAdjust="spacingAndGlyphs">21</text>
<text x="1174.80" y="343.40" font-size="13.60" font-weight="400" fill="#333333" text-anchor="start" textLength="44.73" lengthAdjust="spacingAndGlyphs">NotDue</text>
<text x="800.30" y="365.00" font-size="13.60" font-weight="400" fill="#333333" text-anchor="end" textLength="28.44" lengthAdjust="spacingAndGlyphs">1191</text>
<text x="951.00" y="365.00" font-size="13.60" font-weight="400" fill="#333333" text-anchor="end" textLength="35.55" lengthAdjust="spacingAndGlyphs">19943</text>
<text x="961.00" y="365.00" font-size="13.60" font-weight="400" fill="#333333" text-anchor="start" textLength="43.99" lengthAdjust="spacingAndGlyphs">Female</text>
<text x="1164.20" y="365.00" font-size="13.60" font-weight="400" fill="#333333" text-anchor="end" textLength="7.11" lengthAdjust="spacingAndGlyphs">5</text>
<text x="1174.80" y="365.00" font-size="13.60" font-weight="400" fill="#333333" text-anchor="start" textLength="44.73" lengthAdjust="spacingAndGlyphs">NotDue</text>
<rect x="686.00" y="370.20" width="599.80" height="21.60" rx="0" fill="#ececec"/>
<text x="800.30" y="386.60" font-size="13.60" font-weight="400" fill="#333333" text-anchor="end" textLength="21.33" lengthAdjust="spacingAndGlyphs">226</text>
<text x="951.00" y="386.60" font-size="13.60" font-weight="400" fill="#333333" text-anchor="end" textLength="35.55" lengthAdjust="spacingAndGlyphs">19926</text>
<text x="961.00" y="386.60" font-size="13.60" font-weight="400" fill="#333333" text-anchor="start" textLength="43.99" lengthAdjust="spacingAndGlyphs">Female</text>
<text x="1164.20" y="386.60" font-size="13.60" font-weight="400" fill="#333333" text-anchor="end" textLength="7.11" lengthAdjust="spacingAndGlyphs">5</text>
<text x="1174.80" y="386.60" font-size="13.60" font-weight="400" fill="#333333" text-anchor="start" textLength="44.73" lengthAdjust="spacingAndGlyphs">NotDue</text>
<text x="800.30" y="408.20" font-size="13.60" font-weight="400" fill="#333333" text-anchor="end" textLength="21.33" lengthAdjust="spacingAndGlyphs">787</text>
<text x="951.00" y="408.20" font-size="13.60" font-weight="400" fill="#333333" text-anchor="end" textLength="35.55" lengthAdjust="spacingAndGlyphs">19859</text>
<text x="961.00" y="408.20" font-size="13.60" font-weight="400" fill="#333333" text-anchor="start" textLength="28.59" lengthAdjust="spacingAndGlyphs">Male</text>
<text x="1164.20" y="408.20" font-size="13.60" font-weight="400" fill="#333333" text-anchor="end" textLength="7.11" lengthAdjust="spacingAndGlyphs">5</text>
<text x="1174.80" y="408.20" font-size="13.60" font-weight="400" fill="#333333" text-anchor="start" textLength="44.73" lengthAdjust="spacingAndGlyphs">NotDue</text>
<rect x="686.00" y="413.30" width="599.80" height="21.60" rx="0" fill="#ececec"/>
<text x="800.30" y="429.80" font-size="13.60" font-weight="400" fill="#333333" text-anchor="end" textLength="28.44" lengthAdjust="spacingAndGlyphs">1282</text>
<text x="951.00" y="429.80" font-size="13.60" font-weight="400" fill="#333333" text-anchor="end" textLength="35.55" lengthAdjust="spacingAndGlyphs">19847</text>
<text x="961.00" y="429.80" font-size="13.60" font-weight="400" fill="#333333" text-anchor="start" textLength="28.59" lengthAdjust="spacingAndGlyphs">Male</text>
<text x="1164.20" y="429.80" font-size="13.60" font-weight="400" fill="#333333" text-anchor="end" textLength="14.22" lengthAdjust="spacingAndGlyphs">29</text>
<text x="1174.80" y="429.80" font-size="13.60" font-weight="400" fill="#333333" text-anchor="start" textLength="104.11" lengthAdjust="spacingAndGlyphs">DueForPromotion</text>
<text x="800.30" y="451.40" font-size="13.60" font-weight="400" fill="#333333" text-anchor="end" textLength="28.44" lengthAdjust="spacingAndGlyphs">1338</text>
<text x="951.00" y="451.40" font-size="13.60" font-weight="400" fill="#333333" text-anchor="end" textLength="35.55" lengthAdjust="spacingAndGlyphs">19845</text>
<text x="961.00" y="451.40" font-size="13.60" font-weight="400" fill="#333333" text-anchor="start" textLength="43.99" lengthAdjust="spacingAndGlyphs">Female</text>
<text x="1164.20" y="451.40" font-size="13.60" font-weight="400" fill="#333333" text-anchor="end" textLength="14.22" lengthAdjust="spacingAndGlyphs">20</text>
<text x="1174.80" y="451.40" font-size="13.60" font-weight="400" fill="#333333" text-anchor="start" textLength="44.73" lengthAdjust="spacingAndGlyphs">NotDue</text>
</g>
<rect x="686.00" y="443.20" width="575.60" height="6.80" rx="3.4" fill="#a9a9a9"/>
<rect x="1286.80" y="279.30" width="6.80" height="100.70" rx="3.4" fill="#a9a9a9"/>
<circle cx="322.8" cy="503.6" r="5" fill="#4a5bc2"/>
<circle cx="484" cy="503.6" r="5" fill="#5ac8e8"/>
<text x="329.97" y="508.20" font-size="12.94" font-weight="400" fill="#666666" textLength="142.74" lengthAdjust="spacingAndGlyphs">Sum of YearsInCurrentRole</text>
<text x="490.47" y="508.20" font-size="12.94" font-weight="400" fill="#666666" textLength="132.15" lengthAdjust="spacingAndGlyphs">Sum of YearsAtCompany</text>
<rect x="77.00" y="634.70" width="41.10" height="50.60" rx="0" fill="#93dbf1"/>
<rect x="82.00" y="639.70" width="31.10" height="40.60" rx="0" fill="#4a5bc2"/>
<rect x="118.10" y="604.40" width="41.10" height="80.90" rx="0" fill="#93dbf1"/>
<rect x="123.10" y="609.40" width="31.10" height="70.90" rx="0" fill="#5ac8e8"/>
<rect x="78.80" y="608.70" width="37.50" height="18.20" rx="4" fill="#ebebeb"/>
<text x="98.05" y="622.10" font-size="12.60" font-weight="400" fill="#5a5a5a" text-anchor="middle">1.4K</text>
<rect x="119.90" y="578.40" width="37.50" height="18.20" rx="4" fill="#ebebeb"/>
<text x="139.15" y="591.80" font-size="12.60" font-weight="400" fill="#5a5a5a" text-anchor="middle">2.1K</text>
<text x="118.10" y="702.00" font-size="12.20" font-weight="700" fill="#555555" text-anchor="middle">Level 1</text>
<rect x="183.15" y="596.30" width="41.10" height="89.00" rx="0" fill="#93dbf1"/>
<rect x="188.15" y="601.30" width="31.10" height="79.00" rx="0" fill="#4a5bc2"/>
<rect x="224.25" y="549.90" width="41.10" height="135.40" rx="0" fill="#93dbf1"/>
<rect x="229.25" y="554.90" width="31.10" height="125.40" rx="0" fill="#5ac8e8"/>
<rect x="184.95" y="570.30" width="37.50" height="18.20" rx="4" fill="#ebebeb"/>
<text x="204.20" y="583.70" font-size="12.60" font-weight="400" fill="#5a5a5a" text-anchor="middle">2.4K</text>
<rect x="226.05" y="523.90" width="37.50" height="18.20" rx="4" fill="#ebebeb"/>
<text x="245.30" y="537.30" font-size="12.60" font-weight="400" fill="#5a5a5a" text-anchor="middle">3.6K</text>
<text x="224.25" y="702.00" font-size="12.20" font-weight="700" fill="#555555" text-anchor="middle">Level 2</text>
<rect x="289.30" y="635.00" width="41.10" height="50.30" rx="0" fill="#93dbf1"/>
<rect x="294.30" y="640.00" width="31.10" height="40.30" rx="0" fill="#4a5bc2"/>
<rect x="330.40" y="607.80" width="41.10" height="77.50" rx="0" fill="#93dbf1"/>
<rect x="335.40" y="612.80" width="31.10" height="67.50" rx="0" fill="#5ac8e8"/>
<rect x="291.10" y="609.00" width="37.50" height="18.20" rx="4" fill="#ebebeb"/>
<text x="310.35" y="622.40" font-size="12.60" font-weight="400" fill="#5a5a5a" text-anchor="middle">1.3K</text>
<rect x="332.20" y="581.80" width="37.50" height="18.20" rx="4" fill="#ebebeb"/>
<text x="351.45" y="595.20" font-size="12.60" font-weight="400" fill="#5a5a5a" text-anchor="middle">2.0K</text>
<text x="330.40" y="702.00" font-size="12.20" font-weight="700" fill="#555555" text-anchor="middle">Level 3</text>
<rect x="395.45" y="659.10" width="41.10" height="26.20" rx="0" fill="#93dbf1"/>
<rect x="400.45" y="664.10" width="31.10" height="16.20" rx="0" fill="#4a5bc2"/>
<rect x="436.55" y="630.50" width="41.10" height="54.80" rx="0" fill="#93dbf1"/>
<rect x="441.55" y="635.50" width="31.10" height="44.80" rx="0" fill="#5ac8e8"/>
<rect x="397.25" y="633.10" width="37.50" height="18.20" rx="4" fill="#ebebeb"/>
<text x="416.50" y="646.50" font-size="12.60" font-weight="400" fill="#5a5a5a" text-anchor="middle">0.7K</text>
<rect x="438.35" y="604.50" width="37.50" height="18.20" rx="4" fill="#ebebeb"/>
<text x="457.60" y="617.90" font-size="12.60" font-weight="400" fill="#5a5a5a" text-anchor="middle">1.5K</text>
<text x="436.55" y="702.00" font-size="12.20" font-weight="700" fill="#555555" text-anchor="middle">Level 4</text>
<rect x="501.60" y="668.80" width="41.10" height="16.50" rx="0" fill="#93dbf1"/>
<rect x="506.60" y="673.80" width="31.10" height="6.50" rx="0" fill="#4a5bc2"/>
<rect x="542.70" y="646.50" width="41.10" height="38.80" rx="0" fill="#93dbf1"/>
<rect x="547.70" y="651.50" width="31.10" height="28.80" rx="0" fill="#5ac8e8"/>
<rect x="503.40" y="642.80" width="37.50" height="18.20" rx="4" fill="#ebebeb"/>
<text x="522.65" y="656.20" font-size="12.60" font-weight="400" fill="#5a5a5a" text-anchor="middle">0.4K</text>
<rect x="544.50" y="620.50" width="37.50" height="18.20" rx="4" fill="#ebebeb"/>
<text x="563.75" y="633.90" font-size="12.60" font-weight="400" fill="#5a5a5a" text-anchor="middle">1.0K</text>
<text x="542.70" y="702.00" font-size="12.20" font-weight="700" fill="#555555" text-anchor="middle">Level 5</text>
<text x="684.58" y="587.30" font-size="12.79" font-weight="700" fill="#555555" textLength="64.07" lengthAdjust="spacingAndGlyphs">Retirement</text>
<circle cx="762.4" cy="583" r="6" fill="#4a5bc2"/>
<circle cx="877.9" cy="583" r="6" fill="#5ac8e8"/>
<text x="768.52" y="587.30" font-size="12.79" font-weight="400" fill="#666666" textLength="98.17" lengthAdjust="spacingAndGlyphs">DueForRetirement</text>
<text x="883.94" y="587.30" font-size="12.79" font-weight="400" fill="#666666" textLength="54.78" lengthAdjust="spacingAndGlyphs">OnService</text>
<path d="M840.5,638.4 L873.1,638.4 C865,638.4 864,645.1 855.9,645.1 L840.5,645.1 Z" fill="#6a7bd6"/>
<path d="M873.1,638.4 L1266.6,638.4 C1180,639.6 1090,641.5 1037.7,645.1 L855.9,645.1 C864,645.1 865,638.4 873.1,638.4 Z" fill="#82d6f0"/>
<path d="M840.5,668.3 L855.9,668.3 C850,668.3 850,674 843.9,674 L840.5,674 Z" fill="#6a7bd6"/>
<path d="M855.9,668.3 L1037.7,668.3 C1000,669.2 920,670.5 869.1,674 L843.9,674 C850,674 850,668.3 855.9,668.3 Z" fill="#82d6f0"/>
<rect x="840.50" y="616.00" width="32.60" height="22.40" rx="0" fill="#4a5bc2"/>
<rect x="873.10" y="616.00" width="393.50" height="22.40" rx="0" fill="#5ac8e8"/>
<rect x="840.50" y="645.10" width="15.40" height="23.20" rx="0" fill="#4a5bc2"/>
<rect x="855.90" y="645.10" width="181.80" height="23.20" rx="0" fill="#5ac8e8"/>
<rect x="840.50" y="674.00" width="3.40" height="23.70" rx="0" fill="#4a5bc2"/>
<rect x="843.90" y="674.00" width="25.20" height="23.70" rx="0" fill="#5ac8e8"/>
<text x="850.40" y="631.90" font-size="12.65" font-weight="700" fill="#ffffff" textLength="13.07" lengthAdjust="spacingAndGlyphs">74</text>
<text x="1059.62" y="632.00" font-size="12.65" font-weight="700" fill="#ffffff" textLength="19.90" lengthAdjust="spacingAndGlyphs">887</text>
<text x="936.82" y="661.30" font-size="12.65" font-weight="700" fill="#ffffff" textLength="20.18" lengthAdjust="spacingAndGlyphs">410</text>
<text x="849.51" y="691.20" font-size="12.79" font-weight="700" fill="#ffffff" textLength="13.94" lengthAdjust="spacingAndGlyphs">56</text>
<text x="1273.88" y="632.30" font-size="12.79" font-weight="700" fill="#555555" textLength="20.26" lengthAdjust="spacingAndGlyphs">961</text>
<text x="1046.32" y="661.70" font-size="12.79" font-weight="700" fill="#555555" textLength="20.12" lengthAdjust="spacingAndGlyphs">446</text>
<text x="876.65" y="691.20" font-size="12.79" font-weight="700" fill="#555555" textLength="13.70" lengthAdjust="spacingAndGlyphs">63</text>
<text x="686.19" y="632.00" font-size="12.94" font-weight="700" fill="#555555" textLength="145.25" lengthAdjust="spacingAndGlyphs">Research &amp; Development</text>
<text x="802.17" y="661.70" font-size="12.94" font-weight="700" fill="#555555" textLength="29.59" lengthAdjust="spacingAndGlyphs">Sales</text>
<text x="728.11" y="690.60" font-size="12.94" font-weight="700" fill="#555555" textLength="103.67" lengthAdjust="spacingAndGlyphs">Human Resources</text>
</g>
<rect x="14" y="-13" width="1302" height="745" fill="none" stroke="#333" stroke-width="2" stroke-dasharray="2,2"/>
<g opacity="0.8">
<g fill="none" stroke="#d8d8d8" stroke-width="8" stroke-linecap="round" stroke-linejoin="round">
<path d="M638,674 L606,674 Q597,674 597,685 Q597,696 606,696 L640,696"/>
<path d="M672,695.8 L748,695.8"/>
<path d="M673,678.5 L682,678.5 Q688,678.5 688,685 L688,694"/>
<path d="M748,677 L748,689 Q748,695.8 741,695.8"/>
</g>
<circle cx="722.5" cy="684.5" r="6.5" fill="none" stroke="#d8d8d8" stroke-width="7"/>
<circle cx="609.2" cy="709.3" r="4.6" fill="#d8d8d8"/>
<circle cx="621" cy="709.3" r="4.6" fill="#d8d8d8"/>
<circle cx="680.5" cy="663.6" r="5" fill="#d8d8d8"/>
<circle cx="723.9" cy="663.6" r="5" fill="#d8d8d8"/>
<circle cx="748" cy="663.6" r="5" fill="#d8d8d8"/>
<text x="597.61" y="735.30" font-size="26.50" font-weight="400" fill="#d8d8d8" textLength="152.17" lengthAdjust="spacingAndGlyphs">nafezly.com</text>
</g>
<rect x="0" y="0" width="1346" height="4" fill="url(#topg)"/>
</svg>
</body></html>
